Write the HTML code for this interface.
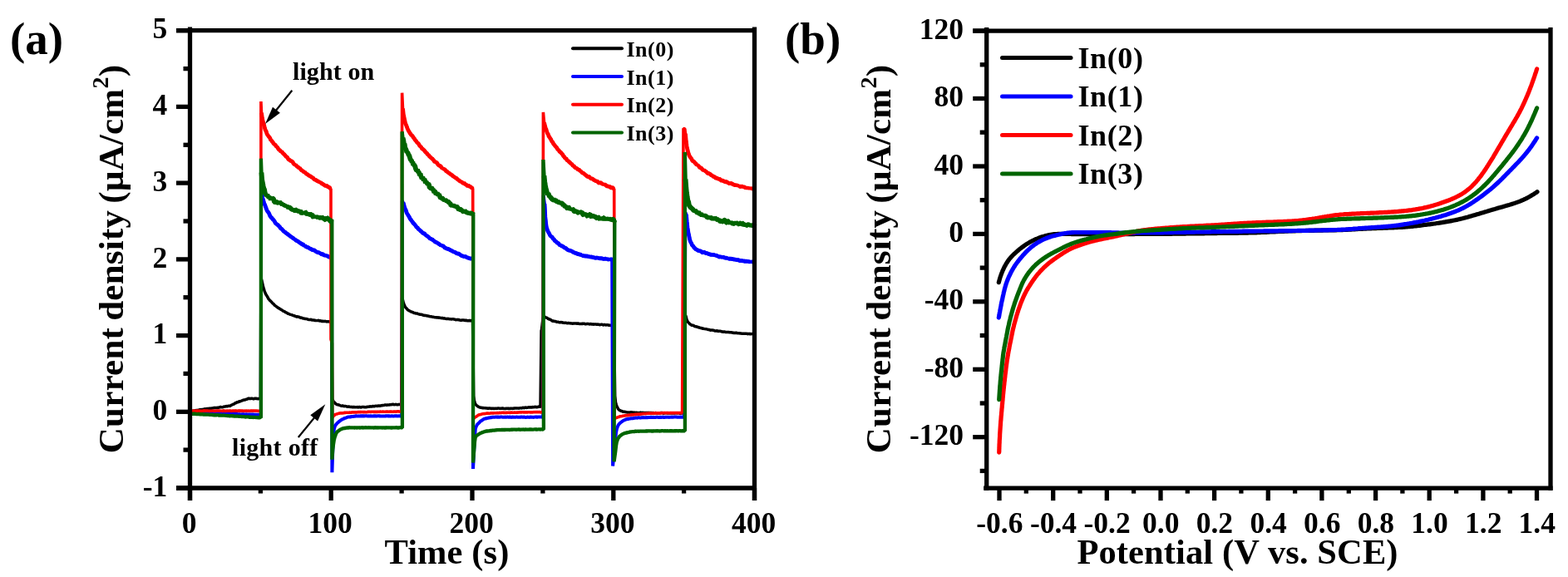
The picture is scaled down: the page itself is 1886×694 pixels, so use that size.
<!DOCTYPE html>
<html><head><meta charset="utf-8"><title>Photocurrent</title>
<style>html,body{margin:0;padding:0;background:#fff;}svg{display:block;filter:blur(0.55px);}text{font-family:"Liberation Serif",serif;font-weight:bold;fill:#000;font-variant-ligatures:none;}</style>
</head><body>
<svg width="1886" height="694" viewBox="0 0 1886 694">
<rect width="1886" height="694" fill="#fff"/>
<g fill="none" stroke-linejoin="bevel" stroke-linecap="butt">
<path d="M228.6 494.7L229.4 494.7L230.2 495.0L231.0 494.2L231.8 494.6L232.6 493.8L233.4 494.1L234.2 494.1L235.0 494.0L235.8 493.5L236.6 493.5L237.4 493.4L238.2 493.3L239.0 493.2L239.9 492.9L240.7 492.5L241.5 492.8L242.3 492.6L243.1 492.4L243.9 492.7L244.7 491.9L245.5 492.3L246.3 491.8L247.1 492.0L247.9 492.1L248.7 491.5L249.5 491.6L250.3 491.5L251.2 491.4L252.0 491.1L252.8 491.3L253.6 491.5L254.4 491.2L255.2 490.8L256.0 491.1L256.8 490.7L257.6 490.4L258.4 490.7L259.2 490.5L260.0 490.4L260.8 490.7L261.6 490.3L262.5 490.5L263.3 489.9L264.1 490.1L264.9 489.5L265.7 489.6L266.5 489.8L267.3 489.7L268.1 489.7L268.9 489.3L269.7 489.1L270.5 489.0L271.3 489.1L272.1 488.5L272.9 488.7L273.8 488.8L274.6 488.2L275.4 488.2L276.2 488.4L277.0 488.3L277.8 487.5L278.6 487.1L279.4 486.7L280.2 486.2L281.0 486.3L281.8 485.8L282.6 485.0L283.4 484.7L284.2 484.5L285.1 483.6L285.9 483.9L286.7 483.6L287.5 482.8L288.3 483.0L289.1 482.7L289.9 482.1L290.7 482.3L291.5 481.6L292.3 481.5L293.1 481.1L293.9 481.0L294.7 481.0L295.5 480.5L296.4 480.3L297.2 480.3L298.0 479.5L298.8 479.3L299.6 479.5L300.4 479.1L301.2 479.8L302.0 479.3L302.8 479.3L303.6 479.3L304.4 479.7L305.2 479.7L306.0 479.5L306.8 479.1L307.7 479.3L308.5 479.6L309.3 479.2L310.1 479.7L310.9 479.7L311.7 479.2L312.5 479.3L313.3 479.2L313.9 333.9L315.0 337.8L315.8 341.4L316.6 345.1L317.4 347.5L318.2 350.4L319.0 352.2L319.8 354.0L320.6 355.2L321.5 356.6L322.3 358.1L323.1 359.7L323.9 360.4L324.7 361.6L325.5 362.0L326.3 362.9L327.1 363.7L327.9 364.9L328.7 365.3L329.5 366.1L330.3 367.1L331.1 367.8L331.9 368.2L332.7 368.9L333.5 369.4L334.3 370.1L335.1 370.5L335.9 371.1L336.7 371.5L337.5 372.1L338.3 372.6L339.1 372.9L339.9 373.5L340.7 374.2L341.5 374.4L342.3 374.7L343.1 375.6L343.9 375.8L344.7 376.2L345.5 376.4L346.3 377.2L347.1 377.4L347.9 377.7L348.7 378.1L349.5 378.4L350.3 378.6L351.1 378.8L351.9 379.1L352.7 379.5L353.6 379.7L354.4 380.0L355.2 380.3L356.0 380.7L356.8 381.0L357.6 380.8L358.4 380.9L359.2 381.3L360.0 381.3L360.8 382.1L361.6 382.2L362.4 382.1L363.2 382.3L364.0 382.9L364.8 383.1L365.6 383.1L366.4 383.3L367.2 383.5L368.0 383.5L368.8 383.6L369.6 383.8L370.4 384.2L371.2 384.4L372.0 384.5L372.8 384.6L373.6 384.2L374.4 384.4L375.2 385.1L376.0 384.9L376.8 385.0L377.6 385.0L378.4 385.4L379.2 385.3L380.0 385.7L380.8 385.2L381.6 385.9L382.4 385.3L383.2 385.5L384.0 385.8L384.8 386.0L385.6 385.8L386.5 386.2L387.3 386.5L388.1 386.2L388.9 386.5L389.7 386.5L390.5 386.5L391.3 386.3L392.1 386.6L392.9 386.9L393.7 386.8L394.5 386.6L395.3 386.8L396.1 386.9L396.9 386.8L397.7 387.1L398.5 387.1L399.7 479.8L400.5 481.6L401.3 483.3L402.1 483.9L402.9 484.6L403.7 485.7L404.5 485.9L405.4 486.8L406.2 486.8L407.0 486.7L407.8 487.3L408.6 487.3L409.4 487.9L410.2 488.1L411.0 488.3L411.8 488.0L412.6 488.1L413.4 488.8L414.2 488.5L415.0 488.6L415.9 488.6L416.7 488.8L417.5 489.1L418.3 489.5L419.1 489.1L419.9 489.1L420.7 489.6L421.5 489.2L422.3 489.6L423.1 489.6L423.9 489.8L424.7 489.3L425.5 489.7L426.4 489.6L427.2 489.9L428.0 489.5L428.8 489.9L429.6 489.5L430.4 489.8L431.2 490.1L432.0 489.6L432.8 489.6L433.6 490.0L434.4 489.9L435.2 489.4L436.0 489.5L436.9 489.5L437.7 489.5L438.5 489.8L439.3 489.7L440.1 489.8L440.9 489.5L441.7 489.5L442.5 489.2L443.3 489.4L444.1 489.2L444.9 488.8L445.7 489.0L446.5 488.9L447.4 488.9L448.2 488.5L449.0 488.4L449.8 489.0L450.6 488.5L451.4 488.4L452.2 488.2L453.0 488.4L453.8 488.6L454.6 488.0L455.4 488.2L456.2 488.1L457.0 488.2L457.9 488.0L458.7 487.7L459.5 487.6L460.3 487.8L461.1 487.3L461.9 487.7L462.7 487.0L463.5 487.0L464.3 487.1L465.1 487.3L465.9 487.0L466.7 487.0L467.5 487.0L468.4 486.9L469.2 486.4L470.0 486.9L470.8 486.4L471.6 486.4L472.4 486.3L473.2 486.3L474.0 486.9L474.8 486.6L475.6 486.4L476.4 486.3L477.2 486.9L478.0 486.7L478.9 486.9L479.7 486.3L480.5 486.4L481.3 486.5L482.1 486.4L482.9 486.4L483.6 358.5L484.5 360.9L485.3 364.1L486.1 366.1L486.9 367.9L487.7 369.6L488.6 370.6L489.4 371.4L490.2 372.5L491.0 373.1L491.8 373.6L492.6 374.1L493.4 374.2L494.2 375.0L495.0 375.0L495.8 375.4L496.6 375.5L497.4 376.3L498.2 376.4L499.0 376.5L499.9 376.8L500.7 377.3L501.5 376.9L502.3 377.3L503.1 377.7L503.9 377.7L504.7 378.1L505.5 378.4L506.3 378.0L507.1 378.4L507.9 378.5L508.7 379.0L509.5 379.2L510.4 379.3L511.2 379.6L512.0 379.3L512.8 379.6L513.6 380.1L514.4 380.1L515.2 379.8L516.0 380.6L516.8 380.6L517.6 380.8L518.4 380.6L519.2 380.9L520.0 381.3L520.8 381.3L521.7 381.3L522.5 381.6L523.3 381.8L524.1 381.8L524.9 381.8L525.7 382.1L526.5 381.7L527.3 382.0L528.1 382.2L528.9 382.0L529.7 382.6L530.5 382.2L531.3 382.7L532.2 382.5L533.0 382.7L533.8 383.0L534.6 382.8L535.4 383.1L536.2 383.4L537.0 383.6L537.8 383.2L538.6 383.4L539.4 383.7L540.2 383.4L541.0 384.0L541.8 383.6L542.6 383.9L543.5 383.9L544.3 383.7L545.1 383.8L545.9 383.9L546.7 384.2L547.5 384.2L548.3 384.8L549.1 384.6L549.9 384.3L550.7 384.8L551.5 384.5L552.3 384.8L553.1 385.0L554.0 385.2L554.8 385.3L555.6 385.0L556.4 385.0L557.2 385.1L558.0 385.1L558.8 385.5L559.6 385.3L560.4 385.5L561.2 385.2L562.0 385.7L562.8 385.9L563.6 385.4L564.5 385.8L565.3 385.5L566.1 385.5L566.9 385.8L567.7 385.7L568.5 386.1L569.7 476.3L570.5 481.9L571.3 484.8L572.1 486.1L572.9 487.3L573.7 487.9L574.5 488.6L575.3 489.3L576.1 489.5L576.9 489.8L577.7 490.3L578.5 490.2L579.3 490.2L580.1 490.8L580.9 490.5L581.7 490.7L582.6 490.7L583.4 490.8L584.2 490.8L585.0 491.1L585.8 490.8L586.6 491.2L587.4 491.4L588.2 491.0L589.0 490.9L589.8 491.3L590.6 491.3L591.4 491.5L592.2 491.2L593.0 491.3L593.8 491.5L594.6 491.3L595.4 491.6L596.2 491.1L597.0 491.4L597.8 491.3L598.6 491.2L599.4 490.9L600.2 491.3L601.0 491.1L601.8 491.4L602.6 491.3L603.4 491.3L604.2 491.0L605.0 491.0L605.9 491.4L606.7 491.4L607.5 491.6L608.3 491.5L609.1 491.2L609.9 491.3L610.7 491.3L611.5 491.5L612.3 491.2L613.1 491.6L613.9 491.3L614.7 491.2L615.5 491.3L616.3 491.2L617.1 491.6L617.9 491.0L618.7 491.2L619.5 490.9L620.3 491.3L621.1 490.9L621.9 490.9L622.7 491.0L623.5 491.1L624.3 491.2L625.1 490.9L625.9 490.7L626.7 490.7L627.5 491.0L628.3 490.5L629.2 490.3L630.0 490.8L630.8 490.5L631.6 490.2L632.4 490.1L633.2 490.6L634.0 490.4L634.8 489.9L635.6 490.2L636.4 489.8L637.2 490.0L638.0 490.0L638.8 489.6L639.6 490.1L640.4 489.7L641.2 489.5L642.0 489.9L642.8 489.4L643.6 489.3L644.4 489.7L645.2 489.5L646.0 489.7L646.8 489.6L647.6 489.2L648.4 489.0L649.2 489.4L650.0 489.2L651.1 397.4L651.4 397.0L652.2 389.9L653.0 383.4L653.8 380.7L654.6 380.3L655.4 381.3L656.2 381.8L657.0 382.0L657.9 382.2L658.7 382.9L659.5 383.5L660.3 383.9L661.1 383.8L661.9 384.5L662.7 384.7L663.5 385.4L664.3 386.0L665.1 386.2L665.9 386.0L666.7 386.5L667.5 386.5L668.3 386.5L669.1 387.1L669.9 387.3L670.8 387.1L671.6 387.3L672.4 387.7L673.2 387.8L674.0 387.7L674.8 387.6L675.6 387.7L676.4 387.8L677.2 388.4L678.0 388.2L678.8 388.4L679.6 388.3L680.4 388.3L681.2 388.2L682.0 388.9L682.9 388.7L683.7 388.4L684.5 388.8L685.3 388.8L686.1 388.8L686.9 389.0L687.7 388.9L688.5 389.2L689.3 389.3L690.1 388.9L690.9 389.1L691.7 388.9L692.5 389.0L693.3 389.0L694.1 389.2L694.9 389.1L695.8 389.1L696.6 389.5L697.4 389.5L698.2 389.4L699.0 389.6L699.8 389.3L700.6 389.5L701.4 389.3L702.2 389.3L703.0 389.2L703.8 389.7L704.6 389.9L705.4 389.5L706.2 389.6L707.0 389.4L707.8 389.5L708.7 389.9L709.5 390.1L710.3 389.6L711.1 389.7L711.9 390.1L712.7 389.8L713.5 390.3L714.3 390.0L715.1 390.1L715.9 390.0L716.7 390.1L717.5 390.2L718.3 390.1L719.1 390.5L719.9 390.1L720.7 390.5L721.6 390.7L722.4 390.4L723.2 390.3L724.0 390.3L724.8 390.4L725.6 390.9L726.4 390.8L727.2 390.4L728.0 390.8L728.8 390.9L729.6 390.8L730.4 390.6L731.2 390.9L732.0 390.9L732.8 391.4L733.7 391.0L734.5 391.5L735.3 391.5L736.1 391.3L736.9 391.1L737.7 391.6L738.5 391.1L739.7 476.3L740.5 483.9L741.3 486.8L742.1 489.0L742.9 490.4L743.7 492.2L744.5 492.8L745.4 493.6L746.2 494.1L747.0 494.3L747.8 494.5L748.6 494.7L749.4 495.2L750.2 495.3L751.0 495.1L751.8 495.5L752.6 495.6L753.4 495.7L754.2 495.9L755.0 496.0L755.9 495.9L756.7 496.1L757.5 496.2L758.3 495.8L759.1 495.8L759.9 495.8L760.7 495.9L761.5 496.5L762.3 496.1L763.1 496.2L763.9 496.3L764.7 496.4L765.5 496.2L766.4 496.6L767.2 496.3L768.0 496.7L768.8 496.7L769.6 496.1L770.4 496.5L771.2 496.2L772.0 496.8L772.8 496.2L773.6 496.4L774.4 496.7L775.2 496.6L776.0 496.7L776.9 496.5L777.7 496.6L778.5 496.4L779.3 496.6L780.1 496.5L780.9 496.8L781.7 496.4L782.5 496.4L783.3 496.5L784.1 496.7L784.9 496.8L785.7 496.4L786.5 497.1L787.4 497.0L788.2 496.7L789.0 496.5L789.8 497.0L790.6 497.1L791.4 496.6L792.2 497.0L793.0 497.0L793.8 497.1L794.6 496.6L795.4 496.6L796.2 496.6L797.0 496.7L797.9 497.2L798.7 497.2L799.5 496.9L800.3 496.6L801.1 496.8L801.9 496.7L802.7 497.0L803.5 497.1L804.3 497.1L805.1 496.9L805.9 496.9L806.7 496.9L807.5 496.9L808.4 496.9L809.2 497.1L810.0 497.1L810.8 496.9L811.6 497.0L812.4 496.7L813.2 496.7L814.0 496.9L814.8 496.9L815.6 496.7L816.4 496.7L817.2 497.0L818.0 497.3L818.9 497.3L819.7 496.7L820.5 496.9L821.3 496.9L822.1 496.9L822.9 496.8L823.8 377.9L825.1 380.6L825.9 384.1L826.7 386.0L827.5 387.3L828.4 388.3L829.2 389.0L830.0 390.1L830.8 390.2L831.6 391.0L832.4 391.3L833.2 391.2L834.0 391.5L834.8 391.9L835.6 392.5L836.4 392.7L837.2 392.7L838.0 393.0L838.8 393.2L839.6 393.5L840.4 393.9L841.2 393.8L842.0 394.4L842.8 394.6L843.6 394.6L844.4 395.1L845.2 395.2L846.0 394.9L846.8 395.7L847.6 395.3L848.4 395.9L849.2 395.6L850.0 395.9L850.8 396.1L851.6 396.6L852.4 396.6L853.2 396.4L854.0 397.1L854.8 397.2L855.6 397.1L856.4 396.9L857.2 397.2L858.1 397.3L858.9 397.5L859.7 398.0L860.5 397.9L861.3 398.2L862.1 397.8L862.9 398.0L863.7 398.5L864.5 398.3L865.3 398.3L866.1 398.3L866.9 398.4L867.7 398.8L868.5 399.0L869.3 399.0L870.1 399.2L870.9 399.1L871.7 399.0L872.5 399.5L873.3 399.4L874.1 399.6L874.9 399.6L875.7 399.6L876.5 399.5L877.3 399.7L878.1 399.8L878.9 399.7L879.7 399.8L880.5 400.1L881.3 399.9L882.1 400.6L882.9 400.3L883.7 400.4L884.5 400.5L885.3 400.2L886.1 400.3L886.9 400.9L887.8 400.7L888.6 400.8L889.4 400.7L890.2 401.0L891.0 400.9L891.8 401.2L892.6 401.2L893.4 401.3L894.2 401.3L895.0 401.3L895.8 401.2L896.6 401.3L897.4 401.3L898.2 401.3L899.0 401.6L899.8 401.7L900.6 401.1L901.4 401.7L902.2 401.6L903.0 401.6L903.8 401.9L904.6 401.3L905.4 401.6L906.2 401.6L907.0 402.0L907.8 401.5" stroke="#000000" stroke-width="3.5"/>
<path d="M228.5 496.6L229.3 496.7L230.1 496.6L230.9 496.9L231.7 496.7L232.5 496.9L233.3 496.9L234.1 496.8L234.9 497.0L235.7 496.8L236.6 497.0L237.4 496.9L238.2 496.9L239.0 496.7L239.8 496.9L240.6 496.9L241.4 497.0L242.2 497.2L243.0 496.9L243.8 497.1L244.6 497.1L245.4 497.0L246.2 497.1L247.0 497.0L247.8 497.3L248.6 497.1L249.4 497.2L250.2 497.2L251.1 497.4L251.9 497.4L252.7 497.3L253.5 497.3L254.3 497.2L255.1 497.5L255.9 497.2L256.7 497.3L257.5 497.4L258.3 497.5L259.1 497.5L259.9 497.4L260.7 497.6L261.5 497.7L262.3 497.3L263.1 497.6L263.9 497.6L264.7 497.5L265.5 497.6L266.4 497.6L267.2 497.7L268.0 497.7L268.8 497.9L269.6 497.9L270.4 497.9L271.2 497.7L272.0 497.9L272.8 497.9L273.6 497.9L274.4 498.1L275.2 497.7L276.0 497.9L276.8 497.9L277.6 498.0L278.4 497.8L279.2 498.2L280.0 497.9L280.9 498.0L281.7 497.9L282.5 498.0L283.3 498.2L284.1 497.9L284.9 498.0L285.7 498.2L286.5 498.2L287.3 498.3L288.1 498.1L288.9 498.4L289.7 498.4L290.5 498.4L291.3 498.2L292.1 498.3L292.9 498.2L293.7 498.5L294.5 498.6L295.4 498.6L296.2 498.3L297.0 498.4L297.8 498.5L298.6 498.5L299.4 498.4L300.2 498.7L301.0 498.5L301.8 498.6L302.6 498.5L303.4 498.7L304.2 498.5L305.0 498.5L305.8 498.7L306.6 498.7L307.4 498.9L308.2 498.7L309.0 498.8L309.8 498.7L310.7 498.7L311.5 498.9L312.3 498.9L313.1 498.9L313.9 499.1L314.1 232.2L315.0 234.2L315.8 238.3L316.6 240.3L317.5 243.9L318.3 245.7L319.1 247.7L319.9 249.9L320.7 252.1L321.5 253.9L322.3 254.8L323.1 255.8L323.9 257.4L324.7 259.5L325.5 260.6L326.3 261.8L327.1 262.2L328.0 263.8L328.8 264.2L329.6 265.3L330.4 266.5L331.2 268.3L332.0 268.8L332.8 269.9L333.6 269.8L334.4 271.1L335.2 271.5L336.0 272.6L336.8 273.2L337.6 274.9L338.4 275.0L339.3 275.9L340.1 276.8L340.9 277.8L341.7 278.6L342.5 278.9L343.3 279.5L344.1 280.6L344.9 280.7L345.7 281.2L346.5 282.4L347.3 282.5L348.1 283.2L348.9 283.9L349.8 284.6L350.6 285.0L351.4 285.7L352.2 286.3L353.0 286.4L353.8 287.9L354.6 287.6L355.4 288.7L356.2 289.3L357.0 289.6L357.8 289.9L358.6 290.3L359.4 291.2L360.2 291.6L361.1 292.3L361.9 292.5L362.7 293.6L363.5 293.8L364.3 293.7L365.1 294.6L365.9 295.8L366.7 295.1L367.5 296.3L368.3 297.1L369.1 296.9L369.9 297.6L370.7 297.7L371.6 298.1L372.4 298.9L373.2 299.3L374.0 299.3L374.8 300.0L375.6 300.4L376.4 301.1L377.2 300.6L378.0 301.0L378.8 301.6L379.6 302.0L380.4 303.0L381.2 302.9L382.1 303.8L382.9 303.6L383.7 303.8L384.5 304.6L385.3 304.2L386.1 305.7L386.9 305.8L387.7 305.5L388.5 305.8L389.3 306.8L390.1 307.0L390.9 307.2L391.7 306.8L392.5 307.9L393.4 307.4L394.2 308.3L395.0 308.5L395.8 309.3L396.6 309.2L397.4 308.8L398.2 310.1L399.0 310.2L399.4 568.3L400.2 543.7L401.0 527.2L401.8 516.4L402.6 513.4L403.4 511.7L404.2 510.6L405.0 509.7L405.9 508.6L406.7 508.1L407.5 507.2L408.3 506.7L409.1 506.0L409.9 505.5L410.7 505.0L411.5 504.4L412.3 504.1L413.1 503.9L413.9 503.2L414.7 502.9L415.5 502.8L416.3 502.5L417.1 502.1L417.9 501.7L418.7 501.6L419.5 501.5L420.3 501.6L421.2 501.3L422.0 501.4L422.8 501.0L423.6 500.9L424.4 500.9L425.2 500.9L426.0 500.5L426.8 500.8L427.6 500.5L428.4 500.3L429.2 500.4L430.0 500.4L430.8 500.5L431.6 500.6L432.4 500.4L433.2 500.5L434.0 500.3L434.8 500.5L435.6 500.2L436.5 500.5L437.3 500.3L438.1 500.4L438.9 500.3L439.7 500.3L440.5 500.3L441.3 500.3L442.1 500.4L442.9 500.4L443.7 500.3L444.5 500.4L445.3 500.5L446.1 500.3L446.9 500.4L447.7 500.4L448.5 500.6L449.3 500.3L450.1 500.5L450.9 500.3L451.7 500.3L452.6 500.5L453.4 500.4L454.2 500.3L455.0 500.2L455.8 500.5L456.6 500.3L457.4 500.5L458.2 500.4L459.0 500.4L459.8 500.4L460.6 500.6L461.4 500.6L462.2 500.4L463.0 500.4L463.8 500.3L464.6 500.5L465.4 500.2L466.2 500.3L467.0 500.5L467.9 500.2L468.7 500.5L469.5 500.4L470.3 500.4L471.1 500.3L471.9 500.2L472.7 500.6L473.5 500.5L474.3 500.5L475.1 500.2L475.9 500.5L476.7 500.3L477.5 500.3L478.3 500.4L479.1 500.4L479.9 500.2L480.7 500.5L481.5 500.4L482.3 500.5L483.2 500.6L483.8 241.3L485.0 243.8L485.8 246.2L486.6 249.5L487.5 251.5L488.3 253.1L489.1 255.7L489.9 257.3L490.7 258.4L491.5 259.9L492.3 261.0L493.1 262.9L493.9 263.8L494.7 265.1L495.5 266.1L496.3 267.0L497.1 268.5L498.0 269.2L498.8 270.1L499.6 271.0L500.4 272.2L501.2 273.5L502.0 273.4L502.8 275.0L503.6 275.8L504.4 276.3L505.2 276.9L506.0 277.9L506.8 278.4L507.6 279.2L508.4 280.2L509.3 280.7L510.1 280.7L510.9 281.1L511.7 282.8L512.5 282.8L513.3 283.9L514.1 283.9L514.9 284.7L515.7 285.2L516.5 286.2L517.3 287.1L518.1 287.1L518.9 287.7L519.8 288.0L520.6 288.4L521.4 289.8L522.2 289.4L523.0 290.9L523.8 291.1L524.6 290.9L525.4 292.4L526.2 291.9L527.0 293.0L527.8 292.9L528.6 294.5L529.4 294.1L530.2 295.3L531.1 294.8L531.9 296.0L532.7 295.7L533.5 296.1L534.3 297.2L535.1 298.1L535.9 298.2L536.7 298.8L537.5 299.2L538.3 299.3L539.1 299.2L539.9 300.1L540.7 300.1L541.6 300.9L542.4 301.1L543.2 301.7L544.0 301.7L544.8 302.7L545.6 302.7L546.4 303.2L547.2 303.0L548.0 303.9L548.8 304.3L549.6 305.2L550.4 305.0L551.2 304.9L552.1 305.4L552.9 305.8L553.7 306.6L554.5 307.2L555.3 307.6L556.1 307.8L556.9 308.1L557.7 308.4L558.5 308.8L559.3 308.0L560.1 308.8L560.9 309.3L561.7 309.7L562.5 309.9L563.4 310.2L564.2 310.8L565.0 310.1L565.8 310.9L566.6 311.7L567.4 310.9L568.2 311.2L569.0 312.4L569.0 563.9L570.2 541.3L571.0 526.2L571.8 516.0L572.6 513.5L573.4 511.7L574.2 510.4L575.0 509.6L575.9 508.9L576.7 508.1L577.5 507.0L578.3 506.4L579.1 506.0L579.9 505.5L580.7 504.9L581.5 504.3L582.3 503.9L583.1 503.6L583.9 503.3L584.7 503.4L585.5 503.0L586.3 502.9L587.1 502.7L587.9 502.5L588.7 502.5L589.5 502.3L590.3 502.1L591.2 502.2L592.0 501.8L592.8 501.7L593.6 501.7L594.4 501.7L595.2 501.8L596.0 501.6L596.8 501.6L597.6 501.7L598.4 501.6L599.2 501.7L600.0 501.6L600.8 501.8L601.6 501.6L602.4 501.6L603.2 501.6L604.0 501.6L604.8 501.8L605.6 501.8L606.5 501.8L607.3 501.7L608.1 501.5L608.9 501.8L609.7 501.6L610.5 501.6L611.3 501.7L612.1 501.9L612.9 501.6L613.7 501.6L614.5 501.8L615.3 501.9L616.1 501.6L616.9 501.5L617.7 501.8L618.5 501.8L619.3 501.6L620.1 501.8L620.9 501.6L621.7 501.6L622.6 501.7L623.4 501.8L624.2 501.7L625.0 501.8L625.8 501.5L626.6 501.7L627.4 501.6L628.2 501.5L629.0 501.9L629.8 501.5L630.6 501.6L631.4 501.8L632.2 501.9L633.0 501.9L633.8 501.6L634.6 501.9L635.4 501.5L636.2 501.8L637.0 501.9L637.9 501.6L638.7 501.5L639.5 501.8L640.3 501.8L641.1 501.8L641.9 501.9L642.7 501.7L643.5 501.6L644.3 501.5L645.1 501.6L645.9 501.9L646.7 501.5L647.5 501.6L648.3 501.6L649.1 501.5L649.9 501.6L650.7 501.6L651.5 501.5L652.3 501.7L653.2 501.7L653.6 234.8L655.0 245.2L655.8 260.7L656.6 268.7L657.4 274.0L658.2 276.0L659.0 278.2L659.9 279.6L660.7 281.1L661.5 282.8L662.3 284.0L663.1 284.5L663.9 285.0L664.7 286.1L665.5 287.3L666.3 287.8L667.1 289.2L667.9 290.1L668.7 290.3L669.5 291.2L670.3 292.2L671.1 292.4L671.9 292.7L672.7 294.3L673.5 294.9L674.3 294.4L675.1 295.9L675.9 296.0L676.7 296.1L677.5 296.8L678.3 297.3L679.1 298.5L679.9 298.3L680.7 298.6L681.5 299.3L682.3 300.4L683.1 300.5L683.9 301.1L684.8 301.2L685.6 301.3L686.4 301.5L687.2 302.2L688.0 302.2L688.8 302.8L689.6 303.6L690.4 303.6L691.2 304.0L692.0 304.5L692.8 304.4L693.6 304.7L694.4 305.6L695.2 305.5L696.0 305.6L696.8 306.0L697.6 306.1L698.4 306.2L699.2 307.1L700.0 306.5L700.8 307.6L701.6 307.7L702.4 307.9L703.2 307.3L704.0 307.9L704.8 308.6L705.6 308.0L706.4 308.0L707.2 308.8L708.0 308.4L708.8 308.9L709.6 308.6L710.5 309.7L711.3 309.0L712.1 308.9L712.9 309.8L713.7 309.5L714.5 309.9L715.3 309.9L716.1 310.5L716.9 310.2L717.7 310.1L718.5 309.8L719.3 310.5L720.1 310.3L720.9 310.7L721.7 310.9L722.5 310.8L723.3 310.4L724.1 311.0L724.9 311.1L725.7 311.3L726.5 311.8L727.3 311.0L728.1 311.3L728.9 311.0L729.7 311.9L730.5 311.3L731.3 312.0L732.1 312.1L732.9 311.5L733.7 312.3L734.5 311.9L735.4 311.8L736.2 312.1L737.1 560.5L738.7 543.9L739.5 534.6L740.3 526.4L741.1 519.8L741.9 515.8L742.7 513.5L743.5 511.7L744.3 510.4L745.1 509.4L745.9 508.8L746.7 508.1L747.5 507.5L748.3 506.9L749.1 506.3L749.9 505.9L750.7 505.4L751.5 505.1L752.3 504.8L753.1 504.3L754.0 504.3L754.8 504.0L755.6 503.8L756.4 503.9L757.2 503.4L758.0 503.5L758.8 503.3L759.6 503.3L760.4 503.2L761.2 503.2L762.0 503.1L762.8 502.9L763.6 502.5L764.4 502.7L765.2 502.4L766.0 502.7L766.8 502.6L767.6 502.3L768.4 502.2L769.2 502.4L770.0 502.4L770.8 502.4L771.7 502.3L772.5 502.0L773.3 502.3L774.1 502.0L774.9 502.3L775.7 502.2L776.5 502.2L777.3 502.2L778.1 502.1L778.9 502.2L779.7 502.1L780.5 502.0L781.3 502.0L782.1 501.9L782.9 501.8L783.7 501.8L784.5 502.1L785.3 501.8L786.1 502.0L786.9 502.0L787.7 502.0L788.6 501.9L789.4 501.8L790.2 501.8L791.0 501.8L791.8 501.9L792.6 501.9L793.4 502.0L794.2 501.8L795.0 502.0L795.8 502.0L796.6 501.7L797.4 502.0L798.2 501.8L799.0 502.0L799.8 501.9L800.6 501.7L801.4 501.7L802.2 501.8L803.0 501.8L803.8 501.6L804.6 501.9L805.5 501.8L806.3 501.7L807.1 501.8L807.9 501.6L808.7 501.6L809.5 501.8L810.3 501.6L811.1 501.6L811.9 501.5L812.7 501.5L813.5 501.6L814.3 501.7L815.1 501.9L815.9 501.7L816.7 501.7L817.5 501.7L818.3 501.6L819.1 501.7L819.9 501.9L820.7 501.5L821.5 501.7L822.3 501.8L823.2 501.8L824.4 255.5L825.4 258.0L826.2 266.8L827.0 274.0L827.8 279.4L828.6 282.9L829.4 286.7L830.2 290.0L831.0 291.6L831.8 293.0L832.6 295.2L833.4 295.5L834.2 296.7L835.0 298.0L835.8 298.4L836.6 299.5L837.4 300.1L838.2 300.1L839.0 301.1L839.8 301.3L840.6 301.7L841.4 301.8L842.2 302.1L843.0 302.0L843.8 302.7L844.6 303.6L845.4 303.8L846.2 303.0L847.0 303.3L847.8 303.8L848.6 304.5L849.4 304.5L850.2 304.3L851.0 304.9L851.8 305.3L852.6 305.7L853.4 305.6L854.2 306.1L855.0 306.3L855.8 306.4L856.6 306.0L857.4 307.0L858.2 306.5L859.0 306.6L859.8 307.3L860.6 306.9L861.4 307.2L862.2 307.7L863.0 308.0L863.8 307.8L864.6 309.0L865.4 309.0L866.2 308.8L867.0 309.1L867.8 308.9L868.6 309.9L869.4 309.0L870.2 309.4L871.0 309.4L871.8 310.4L872.6 310.1L873.4 310.2L874.2 310.3L875.0 311.0L875.8 310.4L876.6 311.2L877.4 311.3L878.2 311.1L879.0 311.1L879.8 311.4L880.6 311.5L881.4 311.5L882.2 312.0L883.0 311.9L883.8 311.9L884.6 312.6L885.4 312.3L886.2 312.5L887.0 313.1L887.8 312.7L888.6 312.7L889.4 313.5L890.2 313.7L891.0 313.6L891.8 313.2L892.6 313.7L893.4 313.9L894.2 313.4L895.0 314.1L895.8 314.4L896.6 314.2L897.4 314.3L898.2 314.1L899.0 314.5L899.8 314.1L900.6 314.8L901.4 314.7L902.2 315.3L903.0 314.6L903.8 315.2L904.6 314.4L905.4 315.0L906.2 315.5L907.0 315.0L907.8 315.5" stroke="#0000ff" stroke-width="4.0"/>
<path d="M315.0 234.2L315.8 238.3L316.6 240.3L317.5 243.9L318.3 245.7L319.1 247.7L319.9 249.9L320.7 252.1L321.5 253.9L322.3 254.8L323.1 255.8L323.9 257.4L324.7 259.5L325.5 260.6L326.3 261.8L327.1 262.2L328.0 263.8L328.8 264.2L329.6 265.3L330.4 266.5L331.2 268.3L332.0 268.8L332.8 269.9L333.6 269.8L334.4 271.1L335.2 271.5L336.0 272.6L336.8 273.2L337.6 274.9L338.4 275.0L339.3 275.9L340.1 276.8L340.9 277.8L341.7 278.6L342.5 278.9L343.3 279.5L344.1 280.6L344.9 280.7L345.7 281.2L346.5 282.4L347.3 282.5L348.1 283.2L348.9 283.9L349.8 284.6L350.6 285.0L351.4 285.7L352.2 286.3L353.0 286.4L353.8 287.9L354.6 287.6L355.4 288.7L356.2 289.3L357.0 289.6L357.8 289.9L358.6 290.3L359.4 291.2L360.2 291.6L361.1 292.3L361.9 292.5L362.7 293.6L363.5 293.8L364.3 293.7L365.1 294.6L365.9 295.8L366.7 295.1L367.5 296.3L368.3 297.1L369.1 296.9L369.9 297.6L370.7 297.7L371.6 298.1L372.4 298.9L373.2 299.3L374.0 299.3L374.8 300.0L375.6 300.4L376.4 301.1L377.2 300.6L378.0 301.0L378.8 301.6L379.6 302.0L380.4 303.0L381.2 302.9L382.1 303.8L382.9 303.6L383.7 303.8L384.5 304.6L385.3 304.2L386.1 305.7L386.9 305.8L387.7 305.5L388.5 305.8L389.3 306.8L390.1 307.0L390.9 307.2L391.7 306.8L392.5 307.9L393.4 307.4L394.2 308.3L395.0 308.5L395.8 309.3L396.6 309.2L397.4 308.8L398.2 310.1L399.0 310.2M485.0 243.8L485.8 246.2L486.6 249.5L487.5 251.5L488.3 253.1L489.1 255.7L489.9 257.3L490.7 258.4L491.5 259.9L492.3 261.0L493.1 262.9L493.9 263.8L494.7 265.1L495.5 266.1L496.3 267.0L497.1 268.5L498.0 269.2L498.8 270.1L499.6 271.0L500.4 272.2L501.2 273.5L502.0 273.4L502.8 275.0L503.6 275.8L504.4 276.3L505.2 276.9L506.0 277.9L506.8 278.4L507.6 279.2L508.4 280.2L509.3 280.7L510.1 280.7L510.9 281.1L511.7 282.8L512.5 282.8L513.3 283.9L514.1 283.9L514.9 284.7L515.7 285.2L516.5 286.2L517.3 287.1L518.1 287.1L518.9 287.7L519.8 288.0L520.6 288.4L521.4 289.8L522.2 289.4L523.0 290.9L523.8 291.1L524.6 290.9L525.4 292.4L526.2 291.9L527.0 293.0L527.8 292.9L528.6 294.5L529.4 294.1L530.2 295.3L531.1 294.8L531.9 296.0L532.7 295.7L533.5 296.1L534.3 297.2L535.1 298.1L535.9 298.2L536.7 298.8L537.5 299.2L538.3 299.3L539.1 299.2L539.9 300.1L540.7 300.1L541.6 300.9L542.4 301.1L543.2 301.7L544.0 301.7L544.8 302.7L545.6 302.7L546.4 303.2L547.2 303.0L548.0 303.9L548.8 304.3L549.6 305.2L550.4 305.0L551.2 304.9L552.1 305.4L552.9 305.8L553.7 306.6L554.5 307.2L555.3 307.6L556.1 307.8L556.9 308.1L557.7 308.4L558.5 308.8L559.3 308.0L560.1 308.8L560.9 309.3L561.7 309.7L562.5 309.9L563.4 310.2L564.2 310.8L565.0 310.1L565.8 310.9L566.6 311.7L567.4 310.9L568.2 311.2L569.0 312.4M655.0 245.2L655.8 260.7L656.6 268.7L657.4 274.0L658.2 276.0L659.0 278.2L659.9 279.6L660.7 281.1L661.5 282.8L662.3 284.0L663.1 284.5L663.9 285.0L664.7 286.1L665.5 287.3L666.3 287.8L667.1 289.2L667.9 290.1L668.7 290.3L669.5 291.2L670.3 292.2L671.1 292.4L671.9 292.7L672.7 294.3L673.5 294.9L674.3 294.4L675.1 295.9L675.9 296.0L676.7 296.1L677.5 296.8L678.3 297.3L679.1 298.5L679.9 298.3L680.7 298.6L681.5 299.3L682.3 300.4L683.1 300.5L683.9 301.1L684.8 301.2L685.6 301.3L686.4 301.5L687.2 302.2L688.0 302.2L688.8 302.8L689.6 303.6L690.4 303.6L691.2 304.0L692.0 304.5L692.8 304.4L693.6 304.7L694.4 305.6L695.2 305.5L696.0 305.6L696.8 306.0L697.6 306.1L698.4 306.2L699.2 307.1L700.0 306.5L700.8 307.6L701.6 307.7L702.4 307.9L703.2 307.3L704.0 307.9L704.8 308.6L705.6 308.0L706.4 308.0L707.2 308.8L708.0 308.4L708.8 308.9L709.6 308.6L710.5 309.7L711.3 309.0L712.1 308.9L712.9 309.8L713.7 309.5L714.5 309.9L715.3 309.9L716.1 310.5L716.9 310.2L717.7 310.1L718.5 309.8L719.3 310.5L720.1 310.3L720.9 310.7L721.7 310.9L722.5 310.8L723.3 310.4L724.1 311.0L724.9 311.1L725.7 311.3L726.5 311.8L727.3 311.0L728.1 311.3L728.9 311.0L729.7 311.9L730.5 311.3L731.3 312.0L732.1 312.1L732.9 311.5L733.7 312.3L734.5 311.9L735.4 311.8L736.2 312.1M825.4 258.0L826.2 266.8L827.0 274.0L827.8 279.4L828.6 282.9L829.4 286.7L830.2 290.0L831.0 291.6L831.8 293.0L832.6 295.2L833.4 295.5L834.2 296.7L835.0 298.0L835.8 298.4L836.6 299.5L837.4 300.1L838.2 300.1L839.0 301.1L839.8 301.3L840.6 301.7L841.4 301.8L842.2 302.1L843.0 302.0L843.8 302.7L844.6 303.6L845.4 303.8L846.2 303.0L847.0 303.3L847.8 303.8L848.6 304.5L849.4 304.5L850.2 304.3L851.0 304.9L851.8 305.3L852.6 305.7L853.4 305.6L854.2 306.1L855.0 306.3L855.8 306.4L856.6 306.0L857.4 307.0L858.2 306.5L859.0 306.6L859.8 307.3L860.6 306.9L861.4 307.2L862.2 307.7L863.0 308.0L863.8 307.8L864.6 309.0L865.4 309.0L866.2 308.8L867.0 309.1L867.8 308.9L868.6 309.9L869.4 309.0L870.2 309.4L871.0 309.4L871.8 310.4L872.6 310.1L873.4 310.2L874.2 310.3L875.0 311.0L875.8 310.4L876.6 311.2L877.4 311.3L878.2 311.1L879.0 311.1L879.8 311.4L880.6 311.5L881.4 311.5L882.2 312.0L883.0 311.9L883.8 311.9L884.6 312.6L885.4 312.3L886.2 312.5L887.0 313.1L887.8 312.7L888.6 312.7L889.4 313.5L890.2 313.7L891.0 313.6L891.8 313.2L892.6 313.7L893.4 313.9L894.2 313.4L895.0 314.1L895.8 314.4L896.6 314.2L897.4 314.3L898.2 314.1L899.0 314.5L899.8 314.1L900.6 314.8L901.4 314.7L902.2 315.3L903.0 314.6L903.8 315.2L904.6 314.4L905.4 315.0L906.2 315.5L907.0 315.0L907.8 315.5" stroke="#0000ff" stroke-width="4.8"/>
<path d="M228.5 494.2L229.3 494.2L230.1 494.4L230.9 494.2L231.7 494.2L232.5 494.2L233.3 494.0L234.1 494.2L234.9 494.2L235.7 494.3L236.6 494.0L237.4 494.1L238.2 494.0L239.0 494.3L239.8 494.3L240.6 494.0L241.4 494.4L242.2 494.4L243.0 494.3L243.8 494.2L244.6 494.0L245.4 493.9L246.2 494.2L247.0 494.0L247.8 494.0L248.6 494.1L249.4 493.9L250.2 494.2L251.1 494.2L251.9 494.4L252.7 494.2L253.5 494.3L254.3 494.2L255.1 494.3L255.9 494.2L256.7 494.1L257.5 494.4L258.3 494.4L259.1 494.4L259.9 494.3L260.7 494.1L261.5 494.0L262.3 494.1L263.1 494.0L263.9 494.3L264.7 494.1L265.5 494.4L266.4 494.1L267.2 494.4L268.0 494.4L268.8 493.9L269.6 494.0L270.4 494.4L271.2 494.2L272.0 494.4L272.8 494.1L273.6 494.0L274.4 494.2L275.2 494.3L276.0 494.1L276.8 494.0L277.6 494.1L278.4 494.4L279.2 494.3L280.0 494.0L280.9 494.1L281.7 494.0L282.5 494.0L283.3 494.3L284.1 494.0L284.9 494.2L285.7 494.2L286.5 494.0L287.3 494.3L288.1 494.0L288.9 494.3L289.7 494.0L290.5 494.1L291.3 494.0L292.1 494.1L292.9 494.4L293.7 494.3L294.5 494.1L295.4 494.4L296.2 494.0L297.0 494.1L297.8 494.4L298.6 494.3L299.4 494.0L300.2 494.4L301.0 494.0L301.8 494.1L302.6 494.3L303.4 494.1L304.2 494.1L305.0 494.0L305.8 494.0L306.6 494.2L307.4 494.1L308.2 494.2L309.0 494.1L309.8 494.2L310.7 494.4L311.5 494.2L312.3 494.2L313.1 494.4L313.9 494.0L313.9 122.0L314.5 135.7L315.3 141.5L316.1 145.4L316.9 148.0L317.7 150.9L318.5 154.2L319.3 156.8L320.1 157.7L320.9 160.5L321.7 162.1L322.5 163.2L323.3 164.3L324.1 165.1L324.9 166.3L325.7 168.7L326.6 168.8L327.4 170.5L328.2 170.9L329.0 172.7L329.8 173.3L330.6 173.9L331.4 174.6L332.2 176.3L333.0 176.3L333.8 177.4L334.6 178.7L335.4 180.0L336.2 180.5L337.0 180.9L337.8 182.6L338.6 182.4L339.4 183.0L340.2 184.1L341.0 185.2L341.8 185.4L342.6 186.4L343.4 187.4L344.2 188.5L345.0 188.6L345.8 189.7L346.6 191.2L347.4 192.0L348.2 192.3L349.0 193.1L349.8 193.7L350.6 193.7L351.4 194.3L352.2 195.0L353.0 196.9L353.8 197.3L354.6 198.4L355.4 197.7L356.2 199.3L357.0 199.7L357.8 200.7L358.6 200.8L359.5 202.4L360.3 201.7L361.1 203.0L361.9 203.9L362.7 204.8L363.5 205.2L364.3 205.7L365.1 206.4L365.9 207.2L366.7 207.0L367.5 208.1L368.3 209.0L369.1 209.5L369.9 209.4L370.7 210.5L371.5 211.2L372.3 211.4L373.1 212.0L373.9 212.2L374.7 213.0L375.5 213.6L376.3 213.4L377.1 214.7L377.9 215.7L378.7 216.1L379.5 216.4L380.3 216.4L381.1 217.4L381.9 217.7L382.7 218.0L383.5 219.1L384.3 218.5L385.1 219.9L385.9 219.4L386.7 220.6L387.5 221.0L388.3 221.1L389.1 222.2L389.9 222.4L390.7 223.0L391.6 223.9L392.4 223.4L393.2 223.5L394.0 224.3L394.8 225.3L395.6 225.1L396.4 225.4L397.2 226.9L398.0 227.0L398.0 408.2L399.4 412.7L399.7 502.2L400.5 501.3L401.3 500.2L402.1 499.6L402.9 498.9L403.7 498.4L404.5 498.1L405.3 497.9L406.1 497.7L406.9 497.3L407.7 497.3L408.5 497.0L409.3 496.8L410.1 496.9L410.9 496.9L411.7 496.9L412.5 496.7L413.3 496.8L414.1 496.4L414.9 496.3L415.7 496.4L416.5 496.3L417.4 496.2L418.2 496.2L419.0 496.3L419.8 496.2L420.6 496.1L421.4 496.3L422.2 496.3L423.0 496.0L423.8 495.9L424.6 495.8L425.4 496.1L426.2 495.8L427.0 496.0L427.8 495.9L428.6 495.8L429.4 495.9L430.2 495.6L431.0 495.6L431.8 495.7L432.6 495.5L433.4 495.8L434.2 495.6L435.0 495.5L435.8 495.5L436.6 495.7L437.4 495.6L438.2 495.6L439.0 495.6L439.8 495.7L440.6 495.7L441.4 495.6L442.2 495.4L443.0 495.4L443.8 495.3L444.6 495.2L445.4 495.4L446.2 495.5L447.0 495.3L447.8 495.3L448.6 495.3L449.5 495.4L450.3 495.3L451.1 495.4L451.9 495.4L452.7 495.2L453.5 495.4L454.3 495.4L455.1 495.1L455.9 495.4L456.7 495.3L457.5 495.1L458.3 495.2L459.1 495.2L459.9 495.3L460.7 495.1L461.5 495.2L462.3 495.3L463.1 495.2L463.9 495.3L464.7 495.1L465.5 495.2L466.3 495.0L467.1 495.2L467.9 495.2L468.7 495.1L469.5 495.1L470.3 494.9L471.1 495.2L471.9 495.2L472.7 495.2L473.5 495.0L474.3 495.1L475.1 494.9L475.9 495.2L476.7 495.1L477.5 494.9L478.3 494.8L479.1 494.9L479.9 495.0L480.7 495.1L481.5 494.9L482.4 494.8L483.2 495.1L483.6 111.7L484.5 130.5L485.3 137.8L486.1 141.6L486.9 145.4L487.7 148.9L488.5 150.3L489.3 152.3L490.1 154.6L490.9 156.4L491.7 157.9L492.5 159.0L493.3 160.6L494.1 161.2L494.9 163.0L495.7 162.9L496.5 164.1L497.3 165.6L498.2 166.3L499.0 168.0L499.8 168.9L500.6 169.7L501.4 171.2L502.2 171.8L503.0 172.4L503.8 173.5L504.6 175.1L505.4 176.1L506.2 176.1L507.0 177.9L507.8 179.0L508.6 179.2L509.4 180.2L510.2 180.6L511.0 181.9L511.8 182.8L512.6 183.8L513.4 183.8L514.2 186.0L515.0 186.2L515.8 186.8L516.6 188.2L517.4 188.7L518.2 189.4L519.0 190.5L519.8 190.4L520.6 191.8L521.4 192.4L522.2 193.9L523.0 194.6L523.8 194.5L524.6 195.5L525.4 195.7L526.2 196.9L527.0 198.1L527.8 199.0L528.6 199.1L529.4 199.6L530.2 200.1L531.0 201.3L531.8 202.5L532.6 202.0L533.4 203.6L534.3 203.2L535.1 204.1L535.9 204.7L536.7 206.0L537.5 206.1L538.3 206.8L539.1 207.8L539.9 207.7L540.7 209.2L541.5 208.9L542.3 210.0L543.1 210.3L543.9 210.8L544.7 211.8L545.5 212.2L546.3 212.7L547.1 213.3L547.9 214.0L548.7 214.1L549.5 214.7L550.3 215.8L551.1 216.3L551.9 216.7L552.7 217.7L553.5 217.9L554.3 218.7L555.1 218.3L555.9 219.5L556.7 220.1L557.5 220.7L558.3 220.4L559.1 220.9L559.9 222.2L560.7 221.7L561.5 223.2L562.3 223.5L563.1 222.9L563.9 223.5L564.7 224.7L565.5 224.4L566.3 224.7L567.1 226.1L567.9 226.0L568.7 226.9L569.2 503.3L570.0 503.0L570.8 502.6L571.6 501.8L572.4 501.3L573.2 500.9L574.0 500.3L574.8 499.8L575.6 499.0L576.4 498.9L577.3 498.8L578.1 498.5L578.9 498.4L579.7 498.0L580.5 497.8L581.3 497.7L582.1 497.5L582.9 497.6L583.7 497.5L584.5 497.4L585.3 497.1L586.1 497.1L586.9 497.0L587.8 497.2L588.6 497.2L589.4 497.2L590.2 496.8L591.0 496.8L591.8 497.1L592.6 496.8L593.4 496.9L594.2 496.7L595.0 496.8L595.8 496.7L596.6 496.7L597.4 496.7L598.2 496.5L599.1 496.7L599.9 496.7L600.7 496.4L601.5 496.5L602.3 496.6L603.1 496.4L603.9 496.3L604.7 496.3L605.5 496.4L606.3 496.2L607.1 496.5L607.9 496.5L608.7 496.4L609.6 496.4L610.4 496.3L611.2 496.2L612.0 496.3L612.8 496.2L613.6 496.4L614.4 496.3L615.2 496.1L616.0 496.3L616.8 496.2L617.6 496.2L618.4 496.2L619.2 496.0L620.0 496.2L620.9 496.2L621.7 496.1L622.5 496.1L623.3 496.1L624.1 495.9L624.9 496.0L625.7 495.8L626.5 495.9L627.3 495.9L628.1 495.7L628.9 495.8L629.7 495.9L630.5 495.9L631.4 495.8L632.2 496.0L633.0 495.9L633.8 495.8L634.6 495.9L635.4 495.8L636.2 495.8L637.0 495.8L637.8 496.0L638.6 495.8L639.4 495.9L640.2 495.9L641.0 496.0L641.8 495.6L642.7 495.8L643.5 495.8L644.3 495.6L645.1 495.7L645.9 495.6L646.7 495.6L647.5 495.7L648.3 495.6L649.1 495.6L649.9 495.9L650.7 495.7L651.5 495.7L652.3 495.9L653.2 495.8L653.4 135.0L654.5 147.4L655.3 150.5L656.1 153.7L656.9 155.3L657.7 158.3L658.5 160.5L659.3 161.3L660.1 164.1L660.9 164.6L661.7 166.4L662.5 167.3L663.3 169.1L664.1 170.5L664.9 170.9L665.7 173.3L666.5 173.7L667.3 175.0L668.2 176.1L669.0 176.9L669.8 177.8L670.6 179.3L671.4 180.2L672.2 180.8L673.0 182.4L673.8 182.8L674.6 183.3L675.4 184.6L676.2 185.2L677.0 186.2L677.8 188.0L678.6 188.3L679.4 189.9L680.2 190.5L681.0 190.4L681.8 192.5L682.6 193.2L683.4 192.8L684.2 194.8L685.0 194.9L685.8 195.7L686.6 197.1L687.4 196.8L688.2 197.9L689.0 199.2L689.8 199.6L690.6 200.0L691.4 201.4L692.2 201.8L693.0 202.2L693.8 202.1L694.6 203.5L695.4 203.9L696.2 204.1L697.0 204.5L697.8 205.8L698.6 205.8L699.4 206.9L700.2 207.7L701.0 208.0L701.8 208.3L702.6 209.3L703.4 209.6L704.3 210.6L705.1 210.8L705.9 212.0L706.7 212.4L707.5 212.6L708.3 212.4L709.1 212.7L709.9 214.3L710.7 214.6L711.5 214.8L712.3 214.9L713.1 215.3L713.9 216.3L714.7 216.5L715.5 217.0L716.3 217.5L717.1 218.1L717.9 217.7L718.7 218.2L719.5 219.6L720.3 219.9L721.1 220.2L721.9 219.4L722.7 219.8L723.5 220.5L724.3 221.1L725.1 221.7L725.9 221.3L726.7 222.3L727.5 222.0L728.3 222.3L729.1 223.5L729.9 223.6L730.7 224.1L731.5 224.0L732.3 224.5L733.1 224.4L733.9 224.9L734.7 225.7L735.5 226.2L736.3 225.4L737.1 225.7L737.9 227.0L738.7 227.0L739.2 503.9L740.0 503.1L740.8 502.8L741.6 502.3L742.4 502.2L743.2 501.7L744.0 501.5L744.8 501.4L745.6 500.9L746.4 500.8L747.2 500.7L748.0 500.7L748.8 500.3L749.7 500.2L750.5 499.9L751.3 500.1L752.1 499.7L752.9 499.6L753.7 499.7L754.5 499.6L755.3 499.6L756.1 499.3L756.9 499.4L757.7 499.0L758.5 499.0L759.3 499.1L760.1 498.8L760.9 498.8L761.7 498.9L762.5 498.8L763.4 498.5L764.2 498.4L765.0 498.4L765.8 498.5L766.6 498.2L767.4 498.1L768.2 498.2L769.0 498.1L769.8 498.1L770.6 498.1L771.4 498.0L772.2 497.7L773.0 497.8L773.8 497.6L774.6 497.5L775.4 497.5L776.2 497.6L777.1 497.5L777.9 497.2L778.7 497.2L779.5 497.2L780.3 497.1L781.1 497.1L781.9 497.1L782.7 497.0L783.5 497.1L784.3 497.2L785.1 497.0L785.9 497.1L786.7 497.0L787.5 496.8L788.3 497.0L789.1 497.1L789.9 496.8L790.7 496.7L791.6 496.9L792.4 496.9L793.2 496.8L794.0 497.0L794.8 496.8L795.6 496.9L796.4 496.6L797.2 496.8L798.0 496.8L798.8 496.5L799.6 496.5L800.4 496.8L801.2 496.8L802.0 496.5L802.8 496.7L803.6 496.5L804.4 496.7L805.3 496.7L806.1 496.5L806.9 496.5L807.7 496.7L808.5 496.6L809.3 496.7L810.1 496.5L810.9 496.5L811.7 496.7L812.5 496.6L813.3 496.5L814.1 496.5L814.9 496.6L815.7 496.6L816.5 496.7L817.3 496.5L818.1 496.6L819.0 496.6L819.8 496.6L820.6 496.6L822.0 154.4L823.8 154.9L824.4 160.7L825.2 169.4L826.0 175.6L826.8 179.6L827.6 182.7L828.4 185.4L829.2 187.5L830.0 188.6L830.8 189.9L831.6 190.7L832.4 192.6L833.2 193.9L834.0 193.9L834.8 194.5L835.6 195.4L836.4 196.4L837.2 197.0L838.0 198.7L838.8 198.1L839.6 199.2L840.4 199.6L841.2 201.0L842.0 201.9L842.8 201.7L843.6 202.1L844.4 203.3L845.2 204.1L846.0 205.1L846.8 204.5L847.6 205.2L848.4 205.8L849.2 206.4L850.0 207.0L850.8 208.2L851.6 208.5L852.4 208.5L853.3 208.9L854.1 209.5L854.9 209.9L855.7 211.1L856.5 211.0L857.3 211.7L858.1 212.6L858.9 212.5L859.7 212.6L860.5 213.9L861.3 214.4L862.1 213.9L862.9 214.6L863.7 215.6L864.5 215.3L865.3 215.3L866.1 215.4L866.9 217.0L867.7 217.1L868.5 216.9L869.3 217.4L870.1 217.7L870.9 217.7L871.7 219.0L872.5 218.8L873.3 218.6L874.1 218.5L874.9 219.5L875.7 219.6L876.5 220.5L877.3 220.6L878.1 220.7L878.9 220.4L879.7 220.6L880.5 221.1L881.3 221.2L882.1 222.3L882.9 222.1L883.7 222.5L884.5 223.2L885.3 222.4L886.2 223.0L887.0 222.7L887.8 223.7L888.6 222.9L889.4 224.2L890.2 224.4L891.0 224.6L891.8 223.7L892.6 224.2L893.4 225.0L894.2 224.3L895.0 225.0L895.8 225.2L896.6 226.0L897.4 225.7L898.2 226.2L899.0 225.6L899.8 226.4L900.6 226.0L901.4 226.9L902.2 225.9L903.0 227.0L903.8 226.3L904.6 226.9L905.4 227.0L906.2 226.6L907.0 227.7L907.8 227.1" stroke="#ff0000" stroke-width="3.6"/>
<path d="M314.5 135.7L315.3 141.5L316.1 145.4L316.9 148.0L317.7 150.9L318.5 154.2L319.3 156.8L320.1 157.7L320.9 160.5L321.7 162.1L322.5 163.2L323.3 164.3L324.1 165.1L324.9 166.3L325.7 168.7L326.6 168.8L327.4 170.5L328.2 170.9L329.0 172.7L329.8 173.3L330.6 173.9L331.4 174.6L332.2 176.3L333.0 176.3L333.8 177.4L334.6 178.7L335.4 180.0L336.2 180.5L337.0 180.9L337.8 182.6L338.6 182.4L339.4 183.0L340.2 184.1L341.0 185.2L341.8 185.4L342.6 186.4L343.4 187.4L344.2 188.5L345.0 188.6L345.8 189.7L346.6 191.2L347.4 192.0L348.2 192.3L349.0 193.1L349.8 193.7L350.6 193.7L351.4 194.3L352.2 195.0L353.0 196.9L353.8 197.3L354.6 198.4L355.4 197.7L356.2 199.3L357.0 199.7L357.8 200.7L358.6 200.8L359.5 202.4L360.3 201.7L361.1 203.0L361.9 203.9L362.7 204.8L363.5 205.2L364.3 205.7L365.1 206.4L365.9 207.2L366.7 207.0L367.5 208.1L368.3 209.0L369.1 209.5L369.9 209.4L370.7 210.5L371.5 211.2L372.3 211.4L373.1 212.0L373.9 212.2L374.7 213.0L375.5 213.6L376.3 213.4L377.1 214.7L377.9 215.7L378.7 216.1L379.5 216.4L380.3 216.4L381.1 217.4L381.9 217.7L382.7 218.0L383.5 219.1L384.3 218.5L385.1 219.9L385.9 219.4L386.7 220.6L387.5 221.0L388.3 221.1L389.1 222.2L389.9 222.4L390.7 223.0L391.6 223.9L392.4 223.4L393.2 223.5L394.0 224.3L394.8 225.3L395.6 225.1L396.4 225.4L397.2 226.9L398.0 227.0M484.5 130.5L485.3 137.8L486.1 141.6L486.9 145.4L487.7 148.9L488.5 150.3L489.3 152.3L490.1 154.6L490.9 156.4L491.7 157.9L492.5 159.0L493.3 160.6L494.1 161.2L494.9 163.0L495.7 162.9L496.5 164.1L497.3 165.6L498.2 166.3L499.0 168.0L499.8 168.9L500.6 169.7L501.4 171.2L502.2 171.8L503.0 172.4L503.8 173.5L504.6 175.1L505.4 176.1L506.2 176.1L507.0 177.9L507.8 179.0L508.6 179.2L509.4 180.2L510.2 180.6L511.0 181.9L511.8 182.8L512.6 183.8L513.4 183.8L514.2 186.0L515.0 186.2L515.8 186.8L516.6 188.2L517.4 188.7L518.2 189.4L519.0 190.5L519.8 190.4L520.6 191.8L521.4 192.4L522.2 193.9L523.0 194.6L523.8 194.5L524.6 195.5L525.4 195.7L526.2 196.9L527.0 198.1L527.8 199.0L528.6 199.1L529.4 199.6L530.2 200.1L531.0 201.3L531.8 202.5L532.6 202.0L533.4 203.6L534.3 203.2L535.1 204.1L535.9 204.7L536.7 206.0L537.5 206.1L538.3 206.8L539.1 207.8L539.9 207.7L540.7 209.2L541.5 208.9L542.3 210.0L543.1 210.3L543.9 210.8L544.7 211.8L545.5 212.2L546.3 212.7L547.1 213.3L547.9 214.0L548.7 214.1L549.5 214.7L550.3 215.8L551.1 216.3L551.9 216.7L552.7 217.7L553.5 217.9L554.3 218.7L555.1 218.3L555.9 219.5L556.7 220.1L557.5 220.7L558.3 220.4L559.1 220.9L559.9 222.2L560.7 221.7L561.5 223.2L562.3 223.5L563.1 222.9L563.9 223.5L564.7 224.7L565.5 224.4L566.3 224.7L567.1 226.1L567.9 226.0L568.7 226.9M654.5 147.4L655.3 150.5L656.1 153.7L656.9 155.3L657.7 158.3L658.5 160.5L659.3 161.3L660.1 164.1L660.9 164.6L661.7 166.4L662.5 167.3L663.3 169.1L664.1 170.5L664.9 170.9L665.7 173.3L666.5 173.7L667.3 175.0L668.2 176.1L669.0 176.9L669.8 177.8L670.6 179.3L671.4 180.2L672.2 180.8L673.0 182.4L673.8 182.8L674.6 183.3L675.4 184.6L676.2 185.2L677.0 186.2L677.8 188.0L678.6 188.3L679.4 189.9L680.2 190.5L681.0 190.4L681.8 192.5L682.6 193.2L683.4 192.8L684.2 194.8L685.0 194.9L685.8 195.7L686.6 197.1L687.4 196.8L688.2 197.9L689.0 199.2L689.8 199.6L690.6 200.0L691.4 201.4L692.2 201.8L693.0 202.2L693.8 202.1L694.6 203.5L695.4 203.9L696.2 204.1L697.0 204.5L697.8 205.8L698.6 205.8L699.4 206.9L700.2 207.7L701.0 208.0L701.8 208.3L702.6 209.3L703.4 209.6L704.3 210.6L705.1 210.8L705.9 212.0L706.7 212.4L707.5 212.6L708.3 212.4L709.1 212.7L709.9 214.3L710.7 214.6L711.5 214.8L712.3 214.9L713.1 215.3L713.9 216.3L714.7 216.5L715.5 217.0L716.3 217.5L717.1 218.1L717.9 217.7L718.7 218.2L719.5 219.6L720.3 219.9L721.1 220.2L721.9 219.4L722.7 219.8L723.5 220.5L724.3 221.1L725.1 221.7L725.9 221.3L726.7 222.3L727.5 222.0L728.3 222.3L729.1 223.5L729.9 223.6L730.7 224.1L731.5 224.0L732.3 224.5L733.1 224.4L733.9 224.9L734.7 225.7L735.5 226.2L736.3 225.4L737.1 225.7L737.9 227.0L738.7 227.0M824.4 160.7L825.2 169.4L826.0 175.6L826.8 179.6L827.6 182.7L828.4 185.4L829.2 187.5L830.0 188.6L830.8 189.9L831.6 190.7L832.4 192.6L833.2 193.9L834.0 193.9L834.8 194.5L835.6 195.4L836.4 196.4L837.2 197.0L838.0 198.7L838.8 198.1L839.6 199.2L840.4 199.6L841.2 201.0L842.0 201.9L842.8 201.7L843.6 202.1L844.4 203.3L845.2 204.1L846.0 205.1L846.8 204.5L847.6 205.2L848.4 205.8L849.2 206.4L850.0 207.0L850.8 208.2L851.6 208.5L852.4 208.5L853.3 208.9L854.1 209.5L854.9 209.9L855.7 211.1L856.5 211.0L857.3 211.7L858.1 212.6L858.9 212.5L859.7 212.6L860.5 213.9L861.3 214.4L862.1 213.9L862.9 214.6L863.7 215.6L864.5 215.3L865.3 215.3L866.1 215.4L866.9 217.0L867.7 217.1L868.5 216.9L869.3 217.4L870.1 217.7L870.9 217.7L871.7 219.0L872.5 218.8L873.3 218.6L874.1 218.5L874.9 219.5L875.7 219.6L876.5 220.5L877.3 220.6L878.1 220.7L878.9 220.4L879.7 220.6L880.5 221.1L881.3 221.2L882.1 222.3L882.9 222.1L883.7 222.5L884.5 223.2L885.3 222.4L886.2 223.0L887.0 222.7L887.8 223.7L888.6 222.9L889.4 224.2L890.2 224.4L891.0 224.6L891.8 223.7L892.6 224.2L893.4 225.0L894.2 224.3L895.0 225.0L895.8 225.2L896.6 226.0L897.4 225.7L898.2 226.2L899.0 225.6L899.8 226.4L900.6 226.0L901.4 226.9L902.2 225.9L903.0 227.0L903.8 226.3L904.6 226.9L905.4 227.0L906.2 226.6L907.0 227.7L907.8 227.1" stroke="#ff0000" stroke-width="4.8"/>
<path d="M228.5 497.5L229.3 497.4L230.1 497.6L230.9 497.7L231.7 497.8L232.5 497.7L233.3 497.9L234.1 497.7L234.9 497.9L235.7 497.9L236.6 498.2L237.4 498.2L238.2 498.1L239.0 497.9L239.8 498.1L240.6 498.3L241.4 498.1L242.2 498.3L243.0 498.3L243.8 498.2L244.6 498.6L245.4 498.6L246.2 498.4L247.0 498.6L247.8 498.5L248.6 498.6L249.4 498.7L250.2 498.6L251.1 498.7L251.9 498.8L252.7 498.9L253.5 498.8L254.3 498.8L255.1 499.1L255.9 499.0L256.7 499.3L257.5 499.1L258.3 499.3L259.1 499.1L259.9 499.4L260.7 499.1L261.5 499.2L262.3 499.2L263.1 499.5L263.9 499.6L264.7 499.4L265.5 499.5L266.4 499.7L267.2 499.7L268.0 499.5L268.8 499.6L269.6 499.7L270.4 499.7L271.2 499.8L272.0 499.8L272.8 500.1L273.6 500.0L274.4 500.1L275.2 500.2L276.0 500.3L276.8 500.3L277.6 500.2L278.4 500.2L279.2 500.3L280.0 500.2L280.9 500.4L281.7 500.6L282.5 500.7L283.3 500.7L284.1 500.7L284.9 500.7L285.7 500.5L286.5 500.7L287.3 500.8L288.1 500.9L288.9 500.8L289.7 500.9L290.5 501.0L291.3 501.2L292.1 501.2L292.9 501.2L293.7 501.1L294.5 501.4L295.4 501.5L296.2 501.4L297.0 501.3L297.8 501.4L298.6 501.3L299.4 501.6L300.2 501.8L301.0 501.6L301.8 501.8L302.6 501.9L303.4 501.7L304.2 502.0L305.0 501.9L305.8 501.8L306.6 501.8L307.4 501.9L308.2 502.1L309.0 502.2L309.8 502.1L310.7 502.4L311.5 502.2L312.3 502.3L313.1 502.2L313.9 502.6L313.9 190.7L314.5 207.6L315.2 216.3L315.9 219.8L316.6 223.6L317.3 226.5L318.0 227.8L318.7 231.8L319.4 233.6L320.1 234.3L320.8 234.6L321.5 233.8L322.2 237.0L322.9 235.8L323.6 238.5L324.3 236.8L325.0 238.5L325.7 239.8L326.4 238.1L327.1 239.8L327.8 238.6L328.5 238.8L329.2 239.7L329.9 242.9L330.6 243.1L331.3 242.5L332.0 241.7L332.7 243.3L333.4 243.8L334.1 243.0L334.8 244.0L335.5 245.1L336.2 242.8L336.9 243.7L337.6 245.0L338.3 244.2L339.0 245.4L339.7 246.3L340.4 245.3L341.1 246.8L341.8 246.2L342.5 247.6L343.2 247.1L343.9 248.4L344.6 246.7L345.3 249.1L346.0 247.6L346.7 250.7L347.4 249.8L348.1 249.6L348.8 249.7L349.5 250.7L350.2 251.2L350.9 251.7L351.6 252.0L352.3 251.4L353.0 253.4L353.7 253.1L354.4 253.4L355.1 252.2L355.8 252.5L356.5 253.2L357.2 254.6L357.9 253.6L358.6 253.8L359.3 253.8L360.0 255.6L360.7 253.9L361.4 253.2L362.1 255.7L362.8 256.6L363.5 256.2L364.2 256.0L364.9 256.8L365.6 255.5L366.3 256.7L367.0 255.1L367.7 255.5L368.4 256.9L369.1 257.3L369.8 257.1L370.5 256.2L371.2 258.6L371.9 258.2L372.6 257.4L373.3 257.9L374.1 258.4L374.8 258.0L375.5 257.7L376.2 260.7L376.9 261.1L377.6 260.3L378.3 261.2L379.0 259.9L379.7 261.4L380.4 259.6L381.1 261.5L381.8 261.1L382.5 262.4L383.2 259.9L383.9 262.4L384.6 260.3L385.3 261.9L386.0 263.5L386.7 260.4L387.4 261.4L388.1 261.8L388.8 262.0L389.5 261.3L390.2 264.3L390.9 264.2L391.6 263.0L392.3 263.0L393.0 263.9L393.7 262.2L394.4 262.3L395.1 265.5L395.8 263.6L396.5 264.4L397.2 266.0L397.9 266.3L398.6 264.8L399.3 264.0L399.4 552.7L400.2 541.0L401.0 534.4L401.8 529.2L402.6 525.9L403.4 523.7L404.2 521.5L405.0 520.1L405.9 519.0L406.7 518.6L407.5 518.0L408.3 517.2L409.1 516.9L409.9 516.3L410.7 516.2L411.5 515.6L412.3 515.4L413.1 515.4L413.9 515.0L414.7 515.1L415.5 514.9L416.3 514.7L417.1 514.4L417.9 514.5L418.7 514.6L419.5 514.4L420.3 514.2L421.1 514.3L421.9 514.3L422.8 514.5L423.6 514.3L424.4 514.3L425.2 514.3L426.0 514.5L426.8 514.5L427.6 514.3L428.4 514.4L429.2 514.5L430.0 514.4L430.8 514.3L431.6 514.3L432.4 514.6L433.2 514.5L434.0 514.3L434.8 514.4L435.6 514.2L436.4 514.6L437.2 514.4L438.0 514.4L438.9 514.4L439.7 514.2L440.5 514.4L441.3 514.3L442.1 514.3L442.9 514.5L443.7 514.2L444.5 514.3L445.3 514.5L446.1 514.3L446.9 514.3L447.7 514.4L448.5 514.3L449.3 514.5L450.1 514.6L450.9 514.2L451.7 514.4L452.5 514.5L453.3 514.3L454.1 514.6L455.0 514.4L455.8 514.3L456.6 514.4L457.4 514.4L458.2 514.3L459.0 514.4L459.8 514.5L460.6 514.4L461.4 514.4L462.2 514.5L463.0 514.5L463.8 514.4L464.6 514.6L465.4 514.3L466.2 514.5L467.0 514.3L467.8 514.4L468.6 514.3L469.4 514.4L470.2 514.5L471.1 514.5L471.9 514.5L472.7 514.3L473.5 514.4L474.3 514.3L475.1 514.4L475.9 514.4L476.7 514.2L477.5 514.4L478.3 514.5L479.1 514.4L479.9 514.5L480.7 514.3L481.5 514.2L482.3 514.2L483.1 514.4L483.9 514.4L483.6 158.3L484.5 165.9L485.2 168.4L485.9 173.0L486.6 173.0L487.3 178.1L488.0 179.0L488.7 180.7L489.4 183.3L490.1 183.1L490.8 184.3L491.5 186.4L492.2 186.9L492.9 189.2L493.6 191.6L494.3 192.6L495.0 193.0L495.7 195.4L496.4 194.9L497.1 198.6L497.8 197.6L498.5 199.0L499.2 199.8L499.9 202.7L500.6 204.3L501.3 205.2L502.0 203.8L502.7 206.1L503.4 207.0L504.1 207.5L504.8 211.0L505.5 208.9L506.2 211.4L506.9 213.2L507.6 214.9L508.3 213.0L509.0 215.0L509.7 216.9L510.4 215.3L511.1 216.9L511.8 220.0L512.5 218.3L513.2 220.0L513.9 220.5L514.6 221.7L515.3 221.3L516.0 222.0L516.7 226.0L517.4 226.0L518.1 226.6L518.8 225.6L519.5 226.4L520.2 228.2L520.9 227.8L521.6 229.3L522.3 231.5L523.0 230.3L523.7 230.9L524.4 233.7L525.1 233.1L525.8 231.8L526.5 233.6L527.2 235.1L527.9 233.7L528.6 235.2L529.3 237.0L530.0 238.2L530.7 237.8L531.4 239.4L532.1 238.5L532.8 238.8L533.5 240.9L534.2 239.8L534.9 241.7L535.6 240.3L536.3 241.2L537.0 241.2L537.7 242.9L538.4 242.1L539.1 242.7L539.8 243.2L540.5 244.5L541.2 244.4L541.9 245.4L542.6 247.6L543.3 247.0L544.1 248.1L544.8 246.2L545.5 247.3L546.2 246.6L546.9 249.1L547.6 248.4L548.3 248.5L549.0 248.0L549.7 248.9L550.4 249.6L551.1 250.4L551.8 252.6L552.5 252.2L553.2 251.0L553.9 251.7L554.6 251.3L555.3 254.3L556.0 252.7L556.7 254.4L557.4 254.6L558.1 255.5L558.8 252.8L559.5 254.1L560.2 254.6L560.9 253.9L561.6 256.9L562.3 255.3L563.0 257.1L563.7 256.5L564.4 255.2L565.1 256.7L565.8 256.4L566.5 256.0L567.2 256.6L567.9 258.4L568.6 256.7L569.3 257.9L569.0 556.6L570.2 541.0L571.0 531.3L571.8 525.8L572.6 524.8L573.4 523.7L574.2 523.3L575.0 522.9L575.9 522.2L576.7 521.7L577.5 521.2L578.3 521.0L579.1 520.5L579.9 520.1L580.7 520.0L581.5 519.5L582.3 519.3L583.1 519.1L583.9 518.8L584.7 518.6L585.5 518.4L586.3 518.5L587.1 518.4L587.9 518.4L588.7 518.3L589.5 518.0L590.3 518.0L591.1 518.0L591.9 517.6L592.8 517.7L593.6 517.6L594.4 517.7L595.2 517.6L596.0 517.3L596.8 517.4L597.6 517.1L598.4 517.2L599.2 517.2L600.0 517.0L600.8 517.1L601.6 517.1L602.4 517.1L603.2 517.0L604.0 517.0L604.8 517.0L605.6 517.0L606.4 516.9L607.2 517.1L608.0 516.9L608.9 516.8L609.7 516.9L610.5 516.9L611.3 516.8L612.1 516.9L612.9 517.0L613.7 516.9L614.5 516.9L615.3 516.6L616.1 516.8L616.9 516.7L617.7 516.6L618.5 516.7L619.3 516.6L620.1 516.7L620.9 516.8L621.7 516.7L622.5 516.6L623.3 516.6L624.1 516.5L625.0 516.6L625.8 516.8L626.6 516.7L627.4 516.5L628.2 516.7L629.0 516.5L629.8 516.6L630.6 516.6L631.4 516.8L632.2 516.5L633.0 516.6L633.8 516.7L634.6 516.7L635.4 516.6L636.2 516.6L637.0 516.5L637.8 516.5L638.6 516.4L639.4 516.6L640.2 516.7L641.1 516.5L641.9 516.7L642.7 516.3L643.5 516.3L644.3 516.5L645.1 516.4L645.9 516.4L646.7 516.7L647.5 516.3L648.3 516.3L649.1 516.4L649.9 516.5L650.7 516.4L651.5 516.3L652.3 516.5L653.1 516.4L653.9 516.4L653.4 192.0L654.5 211.4L655.2 218.4L655.9 222.7L656.6 226.5L657.3 228.9L658.0 231.8L658.7 233.9L659.4 233.0L660.1 234.0L660.8 236.8L661.5 235.6L662.2 237.7L662.9 238.2L663.6 238.8L664.3 240.3L665.0 240.3L665.7 238.6L666.4 240.7L667.1 240.7L667.8 241.4L668.5 241.2L669.2 241.4L669.9 243.4L670.6 243.1L671.3 242.5L672.0 243.0L672.7 243.7L673.4 243.6L674.1 245.1L674.8 244.2L675.5 244.4L676.2 244.8L676.9 245.3L677.6 247.7L678.3 246.0L679.0 247.5L679.7 249.0L680.4 248.4L681.1 247.6L681.8 250.4L682.5 250.7L683.2 248.3L683.9 249.3L684.6 250.5L685.3 251.8L686.0 250.7L686.7 252.1L687.4 250.8L688.1 252.7L688.8 251.7L689.5 252.0L690.2 253.7L690.9 254.3L691.6 254.5L692.3 253.9L693.0 253.7L693.7 254.9L694.4 254.9L695.1 255.9L695.8 256.0L696.5 254.0L697.2 255.1L697.9 256.3L698.6 255.1L699.3 255.1L700.0 254.8L700.7 257.0L701.4 258.4L702.1 258.7L702.8 256.1L703.5 258.2L704.2 257.5L704.9 258.4L705.6 257.9L706.3 259.9L707.0 260.3L707.7 257.3L708.4 259.7L709.1 257.9L709.8 257.8L710.5 258.8L711.2 260.5L711.9 261.6L712.6 258.8L713.3 259.7L714.1 258.9L714.8 260.8L715.5 260.8L716.2 260.6L716.9 260.5L717.6 262.3L718.3 262.6L719.0 260.9L719.7 261.4L720.4 262.3L721.1 263.0L721.8 263.9L722.5 262.0L723.2 263.2L723.9 262.8L724.6 263.8L725.3 261.7L726.0 262.0L726.7 261.9L727.4 264.8L728.1 262.6L728.8 263.6L729.5 262.4L730.2 263.3L730.9 262.3L731.6 264.3L732.3 263.0L733.0 264.8L733.7 263.7L734.4 263.6L735.1 264.6L735.8 264.3L736.5 264.1L737.2 263.5L737.9 263.6L738.6 266.6L739.3 264.7L738.6 555.3L740.2 543.5L741.0 536.5L741.8 531.5L742.6 529.3L743.4 527.3L744.2 526.2L745.0 525.0L745.9 524.3L746.7 523.8L747.5 523.0L748.3 522.4L749.1 522.1L749.9 521.7L750.7 521.3L751.5 520.9L752.3 520.9L753.1 520.6L753.9 520.5L754.7 520.1L755.5 520.2L756.3 520.0L757.1 519.6L757.9 519.5L758.7 519.4L759.5 519.3L760.3 519.2L761.1 519.2L761.9 519.2L762.8 519.0L763.6 519.0L764.4 518.7L765.2 518.7L766.0 519.0L766.8 518.5L767.6 518.7L768.4 518.8L769.2 518.7L770.0 518.7L770.8 518.5L771.6 518.7L772.4 518.7L773.2 518.6L774.0 518.7L774.8 518.3L775.6 518.7L776.4 518.4L777.2 518.6L778.0 518.4L778.9 518.6L779.7 518.3L780.5 518.5L781.3 518.3L782.1 518.4L782.9 518.4L783.7 518.5L784.5 518.5L785.3 518.4L786.1 518.5L786.9 518.3L787.7 518.3L788.5 518.5L789.3 518.3L790.1 518.2L790.9 518.3L791.7 518.5L792.5 518.2L793.3 518.5L794.1 518.4L795.0 518.4L795.8 518.2L796.6 518.2L797.4 518.2L798.2 518.3L799.0 518.3L799.8 518.1L800.6 518.3L801.4 518.3L802.2 518.2L803.0 518.3L803.8 518.5L804.6 518.2L805.4 518.5L806.2 518.2L807.0 518.4L807.8 518.1L808.6 518.5L809.4 518.3L810.2 518.5L811.1 518.2L811.9 518.2L812.7 518.4L813.5 518.2L814.3 518.2L815.1 518.3L815.9 518.5L816.7 518.2L817.5 518.1L818.3 518.2L819.1 518.5L819.9 518.1L820.7 518.3L821.5 518.2L822.3 518.3L823.1 518.2L823.9 518.3L823.8 182.9L824.6 215.4L825.3 225.6L826.0 232.2L826.7 237.1L827.4 241.2L828.1 242.5L828.9 247.1L829.6 248.2L830.3 248.6L831.0 250.3L831.7 250.3L832.4 250.9L833.1 251.0L833.8 252.7L834.5 253.1L835.2 253.4L835.9 252.1L836.6 254.6L837.3 254.3L838.0 255.2L838.7 255.6L839.4 257.0L840.1 254.7L840.8 256.1L841.5 258.2L842.2 257.7L843.0 256.5L843.7 258.3L844.4 259.5L845.1 257.7L845.8 259.6L846.5 257.4L847.2 260.6L847.9 259.2L848.6 258.6L849.3 260.9L850.0 260.5L850.7 261.7L851.4 261.6L852.1 261.8L852.8 261.0L853.5 262.9L854.2 260.0L854.9 263.0L855.6 262.7L856.3 261.3L857.1 263.4L857.8 262.4L858.5 262.9L859.2 264.3L859.9 262.2L860.6 262.7L861.3 264.1L862.0 262.4L862.7 264.2L863.4 265.2L864.1 264.4L864.8 263.7L865.5 265.8L866.2 266.1L866.9 266.0L867.6 265.5L868.3 266.8L869.0 266.6L869.7 264.6L870.5 265.5L871.2 264.7L871.9 264.7L872.6 265.9L873.3 267.8L874.0 267.8L874.7 265.5L875.4 265.9L876.1 266.8L876.8 268.5L877.5 267.8L878.2 268.9L878.9 266.2L879.6 269.5L880.3 266.9L881.0 268.5L881.7 269.5L882.4 269.1L883.1 267.4L883.8 269.1L884.6 268.4L885.3 267.1L886.0 268.3L886.7 268.3L887.4 269.5L888.1 268.4L888.8 269.6L889.5 270.1L890.2 268.4L890.9 268.3L891.6 270.3L892.3 269.7L893.0 268.6L893.7 268.7L894.4 271.6L895.1 270.5L895.8 269.8L896.5 269.3L897.2 272.1L897.9 271.1L898.7 271.4L899.4 270.2L900.1 270.1L900.8 270.5L901.5 269.7L902.2 271.4L902.9 270.8L903.6 272.2L904.3 270.9L905.0 271.1L905.7 271.3L906.4 272.9L907.1 270.9L907.8 272.2" stroke="#006400" stroke-width="4.3"/>
<path d="M314.5 207.6L315.2 216.3L315.9 219.8L316.6 223.6L317.3 226.5L318.0 227.8L318.7 231.8L319.4 233.6L320.1 234.3L320.8 234.6L321.5 233.8L322.2 237.0L322.9 235.8L323.6 238.5L324.3 236.8L325.0 238.5L325.7 239.8L326.4 238.1L327.1 239.8L327.8 238.6L328.5 238.8L329.2 239.7L329.9 242.9L330.6 243.1L331.3 242.5L332.0 241.7L332.7 243.3L333.4 243.8L334.1 243.0L334.8 244.0L335.5 245.1L336.2 242.8L336.9 243.7L337.6 245.0L338.3 244.2L339.0 245.4L339.7 246.3L340.4 245.3L341.1 246.8L341.8 246.2L342.5 247.6L343.2 247.1L343.9 248.4L344.6 246.7L345.3 249.1L346.0 247.6L346.7 250.7L347.4 249.8L348.1 249.6L348.8 249.7L349.5 250.7L350.2 251.2L350.9 251.7L351.6 252.0L352.3 251.4L353.0 253.4L353.7 253.1L354.4 253.4L355.1 252.2L355.8 252.5L356.5 253.2L357.2 254.6L357.9 253.6L358.6 253.8L359.3 253.8L360.0 255.6L360.7 253.9L361.4 253.2L362.1 255.7L362.8 256.6L363.5 256.2L364.2 256.0L364.9 256.8L365.6 255.5L366.3 256.7L367.0 255.1L367.7 255.5L368.4 256.9L369.1 257.3L369.8 257.1L370.5 256.2L371.2 258.6L371.9 258.2L372.6 257.4L373.3 257.9L374.1 258.4L374.8 258.0L375.5 257.7L376.2 260.7L376.9 261.1L377.6 260.3L378.3 261.2L379.0 259.9L379.7 261.4L380.4 259.6L381.1 261.5L381.8 261.1L382.5 262.4L383.2 259.9L383.9 262.4L384.6 260.3L385.3 261.9L386.0 263.5L386.7 260.4L387.4 261.4L388.1 261.8L388.8 262.0L389.5 261.3L390.2 264.3L390.9 264.2L391.6 263.0L392.3 263.0L393.0 263.9L393.7 262.2L394.4 262.3L395.1 265.5L395.8 263.6L396.5 264.4L397.2 266.0L397.9 266.3L398.6 264.8L399.3 264.0M484.5 165.9L485.2 168.4L485.9 173.0L486.6 173.0L487.3 178.1L488.0 179.0L488.7 180.7L489.4 183.3L490.1 183.1L490.8 184.3L491.5 186.4L492.2 186.9L492.9 189.2L493.6 191.6L494.3 192.6L495.0 193.0L495.7 195.4L496.4 194.9L497.1 198.6L497.8 197.6L498.5 199.0L499.2 199.8L499.9 202.7L500.6 204.3L501.3 205.2L502.0 203.8L502.7 206.1L503.4 207.0L504.1 207.5L504.8 211.0L505.5 208.9L506.2 211.4L506.9 213.2L507.6 214.9L508.3 213.0L509.0 215.0L509.7 216.9L510.4 215.3L511.1 216.9L511.8 220.0L512.5 218.3L513.2 220.0L513.9 220.5L514.6 221.7L515.3 221.3L516.0 222.0L516.7 226.0L517.4 226.0L518.1 226.6L518.8 225.6L519.5 226.4L520.2 228.2L520.9 227.8L521.6 229.3L522.3 231.5L523.0 230.3L523.7 230.9L524.4 233.7L525.1 233.1L525.8 231.8L526.5 233.6L527.2 235.1L527.9 233.7L528.6 235.2L529.3 237.0L530.0 238.2L530.7 237.8L531.4 239.4L532.1 238.5L532.8 238.8L533.5 240.9L534.2 239.8L534.9 241.7L535.6 240.3L536.3 241.2L537.0 241.2L537.7 242.9L538.4 242.1L539.1 242.7L539.8 243.2L540.5 244.5L541.2 244.4L541.9 245.4L542.6 247.6L543.3 247.0L544.1 248.1L544.8 246.2L545.5 247.3L546.2 246.6L546.9 249.1L547.6 248.4L548.3 248.5L549.0 248.0L549.7 248.9L550.4 249.6L551.1 250.4L551.8 252.6L552.5 252.2L553.2 251.0L553.9 251.7L554.6 251.3L555.3 254.3L556.0 252.7L556.7 254.4L557.4 254.6L558.1 255.5L558.8 252.8L559.5 254.1L560.2 254.6L560.9 253.9L561.6 256.9L562.3 255.3L563.0 257.1L563.7 256.5L564.4 255.2L565.1 256.7L565.8 256.4L566.5 256.0L567.2 256.6L567.9 258.4L568.6 256.7L569.3 257.9M654.5 211.4L655.2 218.4L655.9 222.7L656.6 226.5L657.3 228.9L658.0 231.8L658.7 233.9L659.4 233.0L660.1 234.0L660.8 236.8L661.5 235.6L662.2 237.7L662.9 238.2L663.6 238.8L664.3 240.3L665.0 240.3L665.7 238.6L666.4 240.7L667.1 240.7L667.8 241.4L668.5 241.2L669.2 241.4L669.9 243.4L670.6 243.1L671.3 242.5L672.0 243.0L672.7 243.7L673.4 243.6L674.1 245.1L674.8 244.2L675.5 244.4L676.2 244.8L676.9 245.3L677.6 247.7L678.3 246.0L679.0 247.5L679.7 249.0L680.4 248.4L681.1 247.6L681.8 250.4L682.5 250.7L683.2 248.3L683.9 249.3L684.6 250.5L685.3 251.8L686.0 250.7L686.7 252.1L687.4 250.8L688.1 252.7L688.8 251.7L689.5 252.0L690.2 253.7L690.9 254.3L691.6 254.5L692.3 253.9L693.0 253.7L693.7 254.9L694.4 254.9L695.1 255.9L695.8 256.0L696.5 254.0L697.2 255.1L697.9 256.3L698.6 255.1L699.3 255.1L700.0 254.8L700.7 257.0L701.4 258.4L702.1 258.7L702.8 256.1L703.5 258.2L704.2 257.5L704.9 258.4L705.6 257.9L706.3 259.9L707.0 260.3L707.7 257.3L708.4 259.7L709.1 257.9L709.8 257.8L710.5 258.8L711.2 260.5L711.9 261.6L712.6 258.8L713.3 259.7L714.1 258.9L714.8 260.8L715.5 260.8L716.2 260.6L716.9 260.5L717.6 262.3L718.3 262.6L719.0 260.9L719.7 261.4L720.4 262.3L721.1 263.0L721.8 263.9L722.5 262.0L723.2 263.2L723.9 262.8L724.6 263.8L725.3 261.7L726.0 262.0L726.7 261.9L727.4 264.8L728.1 262.6L728.8 263.6L729.5 262.4L730.2 263.3L730.9 262.3L731.6 264.3L732.3 263.0L733.0 264.8L733.7 263.7L734.4 263.6L735.1 264.6L735.8 264.3L736.5 264.1L737.2 263.5L737.9 263.6L738.6 266.6L739.3 264.7M824.6 215.4L825.3 225.6L826.0 232.2L826.7 237.1L827.4 241.2L828.1 242.5L828.9 247.1L829.6 248.2L830.3 248.6L831.0 250.3L831.7 250.3L832.4 250.9L833.1 251.0L833.8 252.7L834.5 253.1L835.2 253.4L835.9 252.1L836.6 254.6L837.3 254.3L838.0 255.2L838.7 255.6L839.4 257.0L840.1 254.7L840.8 256.1L841.5 258.2L842.2 257.7L843.0 256.5L843.7 258.3L844.4 259.5L845.1 257.7L845.8 259.6L846.5 257.4L847.2 260.6L847.9 259.2L848.6 258.6L849.3 260.9L850.0 260.5L850.7 261.7L851.4 261.6L852.1 261.8L852.8 261.0L853.5 262.9L854.2 260.0L854.9 263.0L855.6 262.7L856.3 261.3L857.1 263.4L857.8 262.4L858.5 262.9L859.2 264.3L859.9 262.2L860.6 262.7L861.3 264.1L862.0 262.4L862.7 264.2L863.4 265.2L864.1 264.4L864.8 263.7L865.5 265.8L866.2 266.1L866.9 266.0L867.6 265.5L868.3 266.8L869.0 266.6L869.7 264.6L870.5 265.5L871.2 264.7L871.9 264.7L872.6 265.9L873.3 267.8L874.0 267.8L874.7 265.5L875.4 265.9L876.1 266.8L876.8 268.5L877.5 267.8L878.2 268.9L878.9 266.2L879.6 269.5L880.3 266.9L881.0 268.5L881.7 269.5L882.4 269.1L883.1 267.4L883.8 269.1L884.6 268.4L885.3 267.1L886.0 268.3L886.7 268.3L887.4 269.5L888.1 268.4L888.8 269.6L889.5 270.1L890.2 268.4L890.9 268.3L891.6 270.3L892.3 269.7L893.0 268.6L893.7 268.7L894.4 271.6L895.1 270.5L895.8 269.8L896.5 269.3L897.2 272.1L897.9 271.1L898.7 271.4L899.4 270.2L900.1 270.1L900.8 270.5L901.5 269.7L902.2 271.4L902.9 270.8L903.6 272.2L904.3 270.9L905.0 271.1L905.7 271.3L906.4 272.9L907.1 270.9L907.8 272.2" stroke="#006400" stroke-width="5.8"/>
</g>
<g stroke="#000" stroke-width="5.3" fill="none">
<path d="M228.5 32.5V602.0"/>
<path d="M212.0 36.7H907.5"/>
<path d="M907.5 32.5V602.0"/>
<path d="M212.0 587.0H907.5"/>
<path d="M212.0 587.0H228.5"/>
<path d="M220.5 541.1H228.5"/>
<path d="M212.0 495.3H228.5"/>
<path d="M220.5 449.4H228.5"/>
<path d="M212.0 403.6H228.5"/>
<path d="M220.5 357.7H228.5"/>
<path d="M212.0 311.9H228.5"/>
<path d="M220.5 266.0H228.5"/>
<path d="M212.0 220.1H228.5"/>
<path d="M220.5 174.3H228.5"/>
<path d="M212.0 128.4H228.5"/>
<path d="M220.5 82.6H228.5"/>
<path d="M212.0 36.7H228.5"/>
<path d="M228.5 587.0V602.0"/>
<path d="M313.4 587.0V593.5"/>
<path d="M398.2 587.0V602.0"/>
<path d="M483.1 587.0V593.5"/>
<path d="M568.0 587.0V602.0"/>
<path d="M652.9 587.0V593.5"/>
<path d="M737.8 587.0V602.0"/>
<path d="M822.6 587.0V593.5"/>
<path d="M907.5 587.0V602.0"/>
</g>
<g font-size="35.5px" text-anchor="end">
<text x="201.3" y="596.6">-1</text>
<text x="201.3" y="504.9">0</text>
<text x="201.3" y="413.2">1</text>
<text x="201.3" y="321.5">2</text>
<text x="201.3" y="229.7">3</text>
<text x="201.3" y="138.0">4</text>
<text x="201.3" y="46.3">5</text>
</g>
<g font-size="35.5px" text-anchor="middle">
<text x="227.5" y="640.7">0</text>
<text x="397.2" y="640.7">100</text>
<text x="567.0" y="640.7">200</text>
<text x="736.8" y="640.7">300</text>
<text x="906.5" y="640.7">400</text>
</g>
<text x="537.5" y="678.3" font-size="42.5px" text-anchor="middle" letter-spacing="0.1">Time (s)</text>
<text transform="translate(147.5,311.5) rotate(-90)" font-size="43px" text-anchor="middle" letter-spacing="0.25" word-spacing="-3">Current density (μA/cm<tspan font-size="28px" dy="-17.5">2</tspan><tspan dy="17.5">)</tspan></text>
<text x="12" y="65.3" font-size="55px">(a)</text>
<g font-size="26px" letter-spacing="0.5">
<path d="M689 58.3H748" stroke="#000000" stroke-width="4" stroke-linecap="round" fill="none"/>
<text x="753.5" y="67.8">In(0)</text>
<path d="M689 92.0H748" stroke="#0000ff" stroke-width="4" stroke-linecap="round" fill="none"/>
<text x="753.5" y="101.5">In(1)</text>
<path d="M689 125.8H748" stroke="#ff0000" stroke-width="4" stroke-linecap="round" fill="none"/>
<text x="753.5" y="135.3">In(2)</text>
<path d="M689 159.6H748" stroke="#006400" stroke-width="4" stroke-linecap="round" fill="none"/>
<text x="753.5" y="169.1">In(3)</text>
</g>
<text x="352" y="95.5" font-size="30px" letter-spacing="0.1">light on</text>
<text x="279" y="548" font-size="30px" letter-spacing="0.3">light off</text>
<path d="M351.3 108.8L331.2 133.8" stroke="#000" stroke-width="2.2" fill="none"/>
<path d="M319.0 149.0L328.0 128.7L336.9 135.8Z" fill="#000"/>
<path d="M358.8 526.0L379.0 501.3" stroke="#000" stroke-width="2.2" fill="none"/>
<path d="M391.3 486.2L382.1 506.5L373.3 499.2Z" fill="#000"/>
<g fill="none" stroke-linejoin="round" stroke-linecap="round" stroke-width="5.2">
<path d="M1201.3 339.7L1201.7 338.3L1202.1 336.8L1202.5 335.4L1202.9 334.0L1203.4 332.5L1203.9 331.1L1204.4 329.7L1204.9 328.3L1205.5 326.9L1206.0 325.5L1206.7 324.2L1207.3 322.8L1207.9 321.5L1208.6 320.1L1209.4 318.8L1210.1 317.5L1210.9 316.2L1211.7 315.0L1212.5 313.8L1213.4 312.5L1214.3 311.4L1215.3 310.2L1216.3 309.1L1217.3 308.0L1218.3 306.9L1219.4 305.9L1220.5 304.8L1221.6 303.8L1222.7 302.8L1223.8 301.8L1225.0 300.9L1226.1 299.9L1227.3 299.0L1228.5 298.1L1229.7 297.2L1230.9 296.3L1232.1 295.4L1233.3 294.6L1234.6 293.7L1235.9 292.9L1237.1 292.2L1238.4 291.4L1239.8 290.7L1241.1 290.0L1242.4 289.3L1243.8 288.7L1245.1 288.0L1246.5 287.4L1247.9 286.9L1249.3 286.3L1250.7 285.8L1252.1 285.3L1253.5 284.8L1254.9 284.4L1256.4 284.0L1257.8 283.6L1259.3 283.2L1260.7 282.9L1262.2 282.6L1263.7 282.3L1265.2 282.1L1266.6 281.9L1268.1 281.7L1269.6 281.6L1271.1 281.5L1272.6 281.4L1274.1 281.4L1275.6 281.4L1277.1 281.4L1278.6 281.4L1280.1 281.4L1281.6 281.4L1283.1 281.5L1284.6 281.5L1286.1 281.5L1287.6 281.5L1289.1 281.6L1290.6 281.6L1292.1 281.6L1293.6 281.6L1295.1 281.6L1296.6 281.6L1298.1 281.6L1299.6 281.6L1301.1 281.6L1302.6 281.6L1304.1 281.6L1305.6 281.6L1307.1 281.6L1308.6 281.6L1310.1 281.6L1311.6 281.6L1313.1 281.6L1314.6 281.6L1316.1 281.6L1317.6 281.6L1319.1 281.5L1320.6 281.5L1322.1 281.5L1323.6 281.5L1325.1 281.5L1326.6 281.5L1328.1 281.5L1329.6 281.5L1331.1 281.5L1332.6 281.5L1334.1 281.5L1335.6 281.5L1337.1 281.5L1338.6 281.5L1340.1 281.5L1341.6 281.5L1343.1 281.5L1344.6 281.5L1346.1 281.5L1347.6 281.5L1349.1 281.6L1350.6 281.6L1352.1 281.6L1353.6 281.6L1355.1 281.6L1356.6 281.6L1358.1 281.6L1359.6 281.6L1361.1 281.6L1362.6 281.6L1364.1 281.6L1365.6 281.5L1367.1 281.5L1368.6 281.5L1370.1 281.5L1371.6 281.5L1373.1 281.5L1374.6 281.5L1376.1 281.5L1377.6 281.5L1379.1 281.5L1380.6 281.5L1382.1 281.5L1383.6 281.5L1385.1 281.5L1386.6 281.4L1388.1 281.4L1389.6 281.4L1391.1 281.4L1392.6 281.4L1394.1 281.4L1395.6 281.4L1397.1 281.4L1398.6 281.4L1400.1 281.4L1401.6 281.3L1403.1 281.3L1404.6 281.3L1406.1 281.3L1407.6 281.3L1409.1 281.3L1410.6 281.2L1412.1 281.2L1413.6 281.2L1415.1 281.2L1416.6 281.2L1418.1 281.2L1419.6 281.1L1421.1 281.1L1422.6 281.1L1424.1 281.1L1425.6 281.1L1427.1 281.0L1428.6 281.0L1430.1 281.0L1431.6 281.0L1433.1 281.0L1434.6 280.9L1436.1 280.9L1437.6 280.9L1439.1 280.9L1440.6 280.9L1442.1 280.8L1443.6 280.8L1445.1 280.8L1446.6 280.8L1448.2 280.8L1449.7 280.7L1451.2 280.7L1452.7 280.7L1454.2 280.7L1455.7 280.7L1457.2 280.6L1458.7 280.6L1460.2 280.6L1461.7 280.6L1463.2 280.6L1464.7 280.5L1466.2 280.5L1467.7 280.5L1469.2 280.5L1470.7 280.5L1472.2 280.5L1473.7 280.4L1475.2 280.4L1476.7 280.4L1478.2 280.4L1479.7 280.4L1481.2 280.4L1482.7 280.3L1484.2 280.3L1485.7 280.3L1487.2 280.3L1488.7 280.3L1490.2 280.2L1491.7 280.2L1493.2 280.2L1494.7 280.2L1496.2 280.1L1497.7 280.1L1499.2 280.1L1500.7 280.1L1502.2 280.0L1503.7 280.0L1505.2 279.9L1506.7 279.9L1508.2 279.9L1509.7 279.8L1511.2 279.8L1512.7 279.7L1514.2 279.6L1515.7 279.6L1517.2 279.5L1518.7 279.5L1520.2 279.4L1521.7 279.3L1523.2 279.3L1524.7 279.2L1526.2 279.1L1527.6 279.0L1529.1 279.0L1530.6 278.9L1532.1 278.8L1533.6 278.8L1535.1 278.7L1536.6 278.6L1538.1 278.5L1539.6 278.5L1541.1 278.4L1542.6 278.3L1544.1 278.3L1545.6 278.2L1547.1 278.1L1548.6 278.1L1550.1 278.0L1551.6 278.0L1553.1 277.9L1554.6 277.9L1556.1 277.8L1557.6 277.8L1559.1 277.7L1560.6 277.7L1562.1 277.6L1563.6 277.6L1565.1 277.6L1566.6 277.5L1568.1 277.5L1569.6 277.5L1571.1 277.4L1572.6 277.4L1574.1 277.4L1575.6 277.4L1577.1 277.3L1578.6 277.3L1580.1 277.3L1581.6 277.2L1583.1 277.2L1584.6 277.2L1586.1 277.2L1587.6 277.1L1589.1 277.1L1590.6 277.1L1592.1 277.0L1593.6 277.0L1595.1 277.0L1596.6 277.0L1598.1 276.9L1599.6 276.9L1601.1 276.9L1602.6 276.9L1604.1 276.8L1605.6 276.8L1607.1 276.8L1608.6 276.7L1610.1 276.7L1611.6 276.7L1613.1 276.6L1614.6 276.6L1616.1 276.5L1617.6 276.5L1619.1 276.4L1620.6 276.3L1622.1 276.2L1623.6 276.2L1625.1 276.1L1626.6 276.0L1628.1 275.9L1629.6 275.8L1631.1 275.7L1632.6 275.6L1634.1 275.5L1635.6 275.5L1637.1 275.4L1638.6 275.3L1640.1 275.2L1641.6 275.1L1643.1 275.1L1644.6 275.0L1646.1 274.9L1647.6 274.9L1649.1 274.8L1650.6 274.7L1652.1 274.7L1653.6 274.6L1655.1 274.6L1656.6 274.5L1658.1 274.5L1659.6 274.4L1661.1 274.3L1662.6 274.3L1664.1 274.2L1665.6 274.2L1667.1 274.1L1668.6 274.1L1670.1 274.0L1671.6 274.0L1673.1 273.9L1674.6 273.9L1676.1 273.8L1677.6 273.7L1679.1 273.7L1680.6 273.6L1682.1 273.5L1683.6 273.4L1685.1 273.4L1686.6 273.3L1688.1 273.2L1689.6 273.1L1691.1 273.0L1692.6 272.8L1694.0 272.7L1695.5 272.6L1697.0 272.4L1698.5 272.3L1700.0 272.1L1701.5 272.0L1703.0 271.8L1704.5 271.6L1706.0 271.4L1707.5 271.3L1709.0 271.1L1710.4 270.9L1711.9 270.7L1713.4 270.5L1714.9 270.3L1716.4 270.1L1717.9 269.9L1719.4 269.8L1720.9 269.6L1722.4 269.4L1723.8 269.2L1725.3 269.0L1726.8 268.8L1728.3 268.5L1729.8 268.3L1731.3 268.1L1732.8 267.9L1734.2 267.7L1735.7 267.4L1737.2 267.2L1738.7 266.9L1740.2 266.7L1741.6 266.4L1743.1 266.2L1744.6 265.9L1746.1 265.6L1747.5 265.3L1749.0 265.0L1750.5 264.7L1751.9 264.4L1753.4 264.1L1754.8 263.7L1756.3 263.4L1757.8 263.0L1759.2 262.7L1760.7 262.3L1762.1 261.9L1763.6 261.5L1765.0 261.2L1766.5 260.8L1767.9 260.3L1769.3 259.9L1770.8 259.5L1772.2 259.1L1773.7 258.7L1775.1 258.3L1776.5 257.8L1778.0 257.4L1779.4 257.0L1780.9 256.5L1782.3 256.1L1783.7 255.7L1785.2 255.2L1786.6 254.8L1788.0 254.4L1789.5 253.9L1790.9 253.5L1792.4 253.1L1793.8 252.6L1795.2 252.2L1796.7 251.8L1798.1 251.4L1799.6 250.9L1801.0 250.5L1802.4 250.1L1803.9 249.7L1805.3 249.3L1806.8 248.9L1808.2 248.5L1809.7 248.1L1811.1 247.6L1812.5 247.2L1814.0 246.8L1815.4 246.4L1816.9 245.9L1818.3 245.5L1819.7 245.1L1821.1 244.6L1822.6 244.1L1824.0 243.6L1825.4 243.1L1826.8 242.6L1828.2 242.1L1829.5 241.5L1830.9 240.9L1832.3 240.3L1833.6 239.7L1834.9 239.1L1836.3 238.4L1837.6 237.7L1838.9 237.0L1840.2 236.3L1841.5 235.5L1842.7 234.7L1844.0 234.0L1845.3 233.2L1846.5 232.4L1847.8 231.6L1849.0 230.7" stroke="#000000"/>
<path d="M1201.3 382.0L1201.6 380.6L1201.9 379.1L1202.1 377.6L1202.4 376.1L1202.7 374.7L1202.9 373.2L1203.2 371.7L1203.5 370.2L1203.8 368.8L1204.1 367.3L1204.3 365.8L1204.6 364.3L1204.9 362.9L1205.3 361.4L1205.6 359.9L1205.9 358.5L1206.2 357.0L1206.5 355.5L1206.9 354.1L1207.2 352.6L1207.5 351.1L1207.9 349.7L1208.2 348.2L1208.6 346.8L1209.0 345.3L1209.4 343.9L1209.9 342.4L1210.3 341.0L1210.8 339.6L1211.3 338.2L1211.9 336.8L1212.4 335.4L1213.0 334.0L1213.6 332.6L1214.3 331.3L1214.9 329.9L1215.6 328.6L1216.2 327.2L1216.9 325.9L1217.7 324.6L1218.4 323.3L1219.2 322.0L1220.0 320.7L1220.8 319.5L1221.6 318.2L1222.5 317.0L1223.4 315.8L1224.3 314.6L1225.2 313.4L1226.1 312.2L1227.1 311.1L1228.0 309.9L1229.0 308.8L1230.0 307.6L1231.0 306.5L1232.0 305.4L1233.0 304.3L1234.1 303.2L1235.1 302.2L1236.2 301.1L1237.3 300.1L1238.4 299.1L1239.5 298.1L1240.7 297.1L1241.8 296.2L1243.0 295.3L1244.2 294.4L1245.5 293.6L1246.7 292.7L1248.0 291.9L1249.3 291.1L1250.6 290.4L1251.9 289.7L1253.2 289.0L1254.5 288.3L1255.9 287.7L1257.3 287.1L1258.7 286.5L1260.1 286.0L1261.5 285.5L1262.9 285.0L1264.3 284.5L1265.8 284.1L1267.2 283.7L1268.7 283.4L1270.1 283.0L1271.6 282.6L1273.1 282.3L1274.5 281.9L1276.0 281.6L1277.5 281.3L1278.9 281.0L1280.4 280.7L1281.9 280.5L1283.4 280.2L1284.9 280.0L1286.3 279.9L1287.8 279.8L1289.3 279.7L1290.8 279.6L1292.3 279.5L1293.8 279.5L1295.3 279.5L1296.8 279.5L1298.3 279.5L1299.8 279.5L1301.3 279.5L1302.8 279.5L1304.3 279.5L1305.8 279.5L1307.3 279.5L1308.8 279.5L1310.3 279.5L1311.8 279.5L1313.3 279.5L1314.8 279.5L1316.3 279.5L1317.8 279.5L1319.3 279.5L1320.8 279.5L1322.4 279.5L1323.9 279.5L1325.4 279.6L1326.9 279.6L1328.4 279.6L1329.9 279.6L1331.4 279.6L1332.9 279.7L1334.4 279.7L1335.9 279.7L1337.4 279.8L1338.9 279.8L1340.4 279.8L1341.9 279.9L1343.4 279.9L1344.9 279.9L1346.4 280.0L1347.9 280.0L1349.4 280.0L1350.9 280.0L1352.4 280.1L1353.9 280.1L1355.4 280.1L1356.9 280.1L1358.4 280.1L1359.9 280.1L1361.4 280.1L1362.9 280.1L1364.4 280.1L1365.9 280.0L1367.4 280.0L1368.9 280.0L1370.4 280.0L1371.9 280.0L1373.4 280.0L1374.9 280.0L1376.4 280.0L1377.9 280.0L1379.4 280.0L1380.9 279.9L1382.4 279.9L1383.9 279.9L1385.4 279.9L1386.9 279.9L1388.4 279.9L1389.9 279.9L1391.4 279.9L1392.9 279.8L1394.4 279.8L1395.9 279.8L1397.4 279.8L1398.9 279.8L1400.4 279.7L1401.9 279.7L1403.4 279.7L1404.9 279.7L1406.4 279.7L1407.9 279.6L1409.4 279.6L1410.9 279.6L1412.4 279.5L1413.9 279.5L1415.5 279.5L1417.0 279.5L1418.5 279.4L1420.0 279.4L1421.5 279.4L1423.0 279.3L1424.5 279.3L1426.0 279.3L1427.5 279.2L1429.0 279.2L1430.5 279.2L1432.0 279.2L1433.5 279.1L1435.0 279.1L1436.5 279.1L1438.0 279.0L1439.5 279.0L1441.0 279.0L1442.5 279.0L1444.0 278.9L1445.5 278.9L1447.0 278.9L1448.5 278.9L1450.0 278.8L1451.5 278.8L1453.0 278.8L1454.5 278.8L1456.0 278.8L1457.5 278.7L1459.0 278.7L1460.5 278.7L1462.0 278.7L1463.5 278.6L1465.0 278.6L1466.5 278.6L1468.0 278.6L1469.5 278.6L1471.0 278.5L1472.5 278.5L1474.0 278.5L1475.5 278.5L1477.0 278.5L1478.5 278.4L1480.0 278.4L1481.5 278.4L1483.0 278.4L1484.5 278.4L1486.0 278.3L1487.5 278.3L1489.0 278.3L1490.5 278.3L1492.0 278.3L1493.5 278.3L1495.0 278.2L1496.5 278.2L1498.0 278.2L1499.5 278.2L1501.0 278.2L1502.5 278.1L1504.0 278.1L1505.5 278.1L1507.0 278.1L1508.5 278.1L1510.1 278.1L1511.6 278.0L1513.1 278.0L1514.6 278.0L1516.1 278.0L1517.6 278.0L1519.1 278.0L1520.6 277.9L1522.1 277.9L1523.6 277.9L1525.1 277.9L1526.6 277.9L1528.1 277.9L1529.6 277.8L1531.1 277.8L1532.6 277.8L1534.1 277.8L1535.6 277.8L1537.1 277.8L1538.6 277.7L1540.1 277.7L1541.6 277.7L1543.1 277.7L1544.6 277.7L1546.1 277.7L1547.6 277.6L1549.1 277.6L1550.6 277.6L1552.1 277.6L1553.6 277.6L1555.1 277.5L1556.6 277.5L1558.1 277.5L1559.6 277.5L1561.1 277.4L1562.6 277.4L1564.1 277.4L1565.6 277.4L1567.1 277.3L1568.6 277.3L1570.1 277.3L1571.6 277.3L1573.1 277.3L1574.6 277.2L1576.1 277.2L1577.6 277.2L1579.1 277.1L1580.6 277.1L1582.1 277.1L1583.6 277.1L1585.1 277.0L1586.6 277.0L1588.1 277.0L1589.6 276.9L1591.1 276.9L1592.6 276.9L1594.1 276.8L1595.7 276.8L1597.2 276.8L1598.7 276.7L1600.2 276.7L1601.7 276.6L1603.2 276.6L1604.7 276.6L1606.2 276.5L1607.7 276.5L1609.2 276.4L1610.7 276.4L1612.2 276.3L1613.7 276.2L1615.2 276.2L1616.7 276.1L1618.2 276.0L1619.6 275.9L1621.1 275.8L1622.6 275.7L1624.1 275.6L1625.6 275.5L1627.1 275.4L1628.6 275.2L1630.1 275.1L1631.6 275.0L1633.1 274.9L1634.6 274.7L1636.1 274.6L1637.6 274.5L1639.1 274.4L1640.6 274.3L1642.1 274.2L1643.6 274.1L1645.1 274.0L1646.6 273.9L1648.1 273.8L1649.6 273.7L1651.1 273.6L1652.6 273.5L1654.1 273.4L1655.6 273.3L1657.1 273.2L1658.6 273.1L1660.1 273.0L1661.6 272.9L1663.1 272.8L1664.6 272.6L1666.1 272.5L1667.6 272.4L1669.1 272.3L1670.6 272.1L1672.1 272.0L1673.6 271.8L1675.0 271.7L1676.5 271.5L1678.0 271.3L1679.5 271.2L1681.0 271.0L1682.5 270.8L1684.0 270.6L1685.5 270.4L1687.0 270.2L1688.4 269.9L1689.9 269.7L1691.4 269.5L1692.9 269.2L1694.4 269.0L1695.8 268.7L1697.3 268.5L1698.8 268.2L1700.3 267.9L1701.7 267.6L1703.2 267.4L1704.7 267.1L1706.2 266.8L1707.6 266.4L1709.1 266.1L1710.6 265.8L1712.0 265.5L1713.5 265.2L1715.0 264.8L1716.4 264.5L1717.9 264.2L1719.3 263.8L1720.8 263.4L1722.3 263.1L1723.7 262.7L1725.2 262.3L1726.6 262.0L1728.1 261.6L1729.5 261.2L1731.0 260.8L1732.4 260.4L1733.8 260.0L1735.3 259.5L1736.7 259.1L1738.2 258.7L1739.6 258.2L1741.0 257.8L1742.4 257.3L1743.9 256.8L1745.3 256.3L1746.7 255.8L1748.1 255.3L1749.5 254.7L1750.9 254.2L1752.3 253.6L1753.6 253.1L1755.0 252.5L1756.4 251.8L1757.7 251.2L1759.1 250.6L1760.4 249.9L1761.7 249.2L1763.0 248.5L1764.3 247.8L1765.6 247.0L1766.9 246.3L1768.2 245.5L1769.5 244.7L1770.7 243.9L1772.0 243.1L1773.2 242.2L1774.4 241.4L1775.7 240.5L1776.9 239.7L1778.1 238.8L1779.3 237.9L1780.6 237.1L1781.8 236.2L1783.0 235.3L1784.2 234.4L1785.4 233.5L1786.5 232.5L1787.7 231.6L1788.9 230.7L1790.1 229.8L1791.3 228.8L1792.4 227.9L1793.6 226.9L1794.7 226.0L1795.9 225.0L1797.0 224.0L1798.1 223.0L1799.2 222.0L1800.3 221.0L1801.4 220.0L1802.5 219.0L1803.6 217.9L1804.7 216.9L1805.7 215.8L1806.8 214.8L1807.9 213.7L1808.9 212.7L1810.0 211.6L1811.0 210.5L1812.1 209.4L1813.1 208.4L1814.2 207.3L1815.2 206.2L1816.3 205.2L1817.3 204.1L1818.4 203.0L1819.4 201.9L1820.5 200.9L1821.5 199.8L1822.6 198.7L1823.6 197.6L1824.7 196.5L1825.7 195.5L1826.7 194.4L1827.7 193.3L1828.8 192.2L1829.8 191.1L1830.8 189.9L1831.8 188.8L1832.8 187.7L1833.7 186.6L1834.7 185.4L1835.7 184.3L1836.6 183.1L1837.5 181.9L1838.5 180.8L1839.4 179.6L1840.2 178.4L1841.1 177.2L1842.0 175.9L1842.8 174.7L1843.7 173.5L1844.5 172.2L1845.3 171.0L1846.2 169.7L1847.0 168.5L1847.8 167.2L1848.6 165.9" stroke="#0000ff"/>
<path d="M1201.7 544.1L1201.8 542.6L1201.8 541.1L1201.9 539.6L1201.9 538.1L1202.0 536.6L1202.0 535.1L1202.1 533.6L1202.2 532.1L1202.2 530.6L1202.3 529.1L1202.4 527.6L1202.5 526.2L1202.6 524.7L1202.6 523.2L1202.7 521.7L1202.8 520.2L1202.9 518.7L1203.0 517.2L1203.1 515.7L1203.2 514.2L1203.3 512.7L1203.4 511.2L1203.5 509.7L1203.6 508.2L1203.7 506.7L1203.9 505.2L1204.0 503.7L1204.1 502.2L1204.2 500.7L1204.4 499.2L1204.5 497.7L1204.6 496.2L1204.8 494.7L1204.9 493.2L1205.0 491.7L1205.2 490.2L1205.3 488.7L1205.4 487.2L1205.6 485.7L1205.7 484.3L1205.8 482.8L1206.0 481.3L1206.1 479.8L1206.2 478.3L1206.4 476.8L1206.5 475.3L1206.6 473.8L1206.8 472.3L1206.9 470.8L1207.1 469.3L1207.2 467.8L1207.4 466.3L1207.5 464.8L1207.7 463.3L1207.9 461.8L1208.0 460.3L1208.2 458.9L1208.4 457.4L1208.5 455.9L1208.7 454.4L1208.9 452.9L1209.0 451.4L1209.2 449.9L1209.4 448.4L1209.6 446.9L1209.8 445.4L1209.9 443.9L1210.1 442.5L1210.3 441.0L1210.5 439.5L1210.7 438.0L1210.9 436.5L1211.1 435.0L1211.3 433.5L1211.5 432.0L1211.8 430.6L1212.0 429.1L1212.3 427.6L1212.5 426.1L1212.8 424.6L1213.0 423.2L1213.3 421.7L1213.6 420.2L1213.9 418.7L1214.1 417.3L1214.4 415.8L1214.7 414.3L1215.0 412.8L1215.3 411.4L1215.6 409.9L1215.9 408.4L1216.2 407.0L1216.5 405.5L1216.8 404.0L1217.1 402.5L1217.4 401.1L1217.7 399.6L1218.0 398.1L1218.3 396.7L1218.7 395.2L1219.0 393.8L1219.4 392.3L1219.7 390.8L1220.1 389.4L1220.5 387.9L1220.9 386.5L1221.3 385.0L1221.7 383.6L1222.1 382.1L1222.5 380.7L1222.9 379.3L1223.4 377.8L1223.8 376.4L1224.3 375.0L1224.7 373.5L1225.2 372.1L1225.7 370.7L1226.2 369.3L1226.7 367.9L1227.2 366.5L1227.7 365.0L1228.3 363.6L1228.8 362.3L1229.4 360.9L1230.0 359.5L1230.6 358.1L1231.2 356.7L1231.8 355.4L1232.5 354.0L1233.1 352.7L1233.8 351.4L1234.5 350.0L1235.3 348.7L1236.0 347.4L1236.8 346.1L1237.6 344.9L1238.4 343.6L1239.2 342.3L1240.0 341.1L1240.8 339.8L1241.7 338.6L1242.5 337.3L1243.4 336.1L1244.3 334.9L1245.1 333.7L1246.0 332.5L1247.0 331.3L1247.9 330.1L1248.9 329.0L1249.9 327.9L1250.9 326.7L1251.9 325.6L1252.9 324.6L1254.0 323.5L1255.0 322.4L1256.1 321.4L1257.2 320.3L1258.3 319.3L1259.4 318.3L1260.6 317.4L1261.7 316.4L1262.9 315.5L1264.1 314.6L1265.3 313.7L1266.5 312.8L1267.7 311.9L1268.9 311.1L1270.2 310.2L1271.4 309.3L1272.7 308.5L1273.9 307.6L1275.1 306.8L1276.4 306.0L1277.7 305.1L1278.9 304.3L1280.2 303.5L1281.5 302.7L1282.8 302.0L1284.1 301.2L1285.4 300.5L1286.7 299.8L1288.0 299.2L1289.4 298.5L1290.8 297.9L1292.1 297.4L1293.5 296.8L1294.9 296.3L1296.3 295.8L1297.8 295.2L1299.2 294.7L1300.6 294.2L1302.0 293.8L1303.4 293.3L1304.9 292.8L1306.3 292.4L1307.7 291.9L1309.2 291.5L1310.6 291.1L1312.0 290.7L1313.5 290.3L1314.9 289.9L1316.4 289.6L1317.9 289.2L1319.3 288.9L1320.8 288.5L1322.3 288.2L1323.7 287.9L1325.2 287.6L1326.7 287.3L1328.1 287.0L1329.6 286.7L1331.1 286.4L1332.5 286.1L1334.0 285.8L1335.5 285.5L1337.0 285.2L1338.4 284.9L1339.9 284.6L1341.4 284.2L1342.8 283.9L1344.3 283.6L1345.7 283.2L1347.2 282.9L1348.7 282.6L1350.1 282.2L1351.6 281.9L1353.1 281.5L1354.5 281.2L1356.0 280.9L1357.4 280.5L1358.9 280.2L1360.4 279.9L1361.8 279.5L1363.3 279.2L1364.8 278.9L1366.2 278.5L1367.7 278.2L1369.2 277.9L1370.6 277.6L1372.1 277.4L1373.6 277.1L1375.1 276.9L1376.6 276.7L1378.0 276.5L1379.5 276.3L1381.0 276.1L1382.5 275.9L1384.0 275.8L1385.5 275.6L1387.0 275.5L1388.5 275.3L1390.0 275.2L1391.5 275.1L1393.0 274.9L1394.5 274.8L1396.0 274.7L1397.5 274.5L1399.0 274.4L1400.5 274.3L1402.0 274.2L1403.4 274.1L1404.9 274.0L1406.4 273.8L1407.9 273.7L1409.4 273.6L1410.9 273.5L1412.4 273.4L1413.9 273.3L1415.4 273.2L1416.9 273.1L1418.4 273.0L1419.9 272.9L1421.4 272.8L1422.9 272.7L1424.4 272.6L1425.9 272.5L1427.4 272.5L1428.9 272.4L1430.4 272.3L1431.9 272.2L1433.4 272.1L1434.9 272.0L1436.4 272.0L1437.9 271.9L1439.4 271.8L1440.9 271.8L1442.4 271.7L1443.9 271.6L1445.4 271.5L1446.9 271.5L1448.4 271.4L1449.9 271.3L1451.4 271.2L1452.9 271.2L1454.4 271.1L1455.9 271.0L1457.4 270.9L1458.9 270.9L1460.4 270.8L1461.9 270.7L1463.4 270.6L1464.9 270.5L1466.4 270.4L1467.9 270.3L1469.4 270.2L1470.9 270.1L1472.4 270.0L1473.9 269.9L1475.4 269.8L1476.9 269.7L1478.4 269.6L1479.9 269.5L1481.4 269.4L1482.9 269.3L1484.4 269.2L1485.9 269.1L1487.4 269.0L1488.9 268.9L1490.3 268.8L1491.8 268.7L1493.3 268.6L1494.8 268.5L1496.3 268.4L1497.8 268.3L1499.3 268.3L1500.8 268.2L1502.3 268.1L1503.8 268.0L1505.3 268.0L1506.8 267.9L1508.3 267.8L1509.8 267.8L1511.3 267.7L1512.8 267.6L1514.3 267.6L1515.8 267.5L1517.3 267.5L1518.8 267.4L1520.3 267.3L1521.8 267.3L1523.4 267.2L1524.9 267.2L1526.4 267.1L1527.9 267.1L1529.4 267.0L1530.9 267.0L1532.4 266.9L1533.9 266.9L1535.4 266.8L1536.9 266.7L1538.4 266.7L1539.9 266.6L1541.4 266.6L1542.9 266.5L1544.4 266.4L1545.9 266.4L1547.4 266.3L1548.9 266.2L1550.4 266.1L1551.8 266.1L1553.3 266.0L1554.8 265.9L1556.3 265.8L1557.8 265.7L1559.3 265.6L1560.8 265.5L1562.3 265.3L1563.8 265.2L1565.3 265.1L1566.8 264.9L1568.3 264.7L1569.8 264.5L1571.2 264.3L1572.7 264.1L1574.2 263.9L1575.7 263.7L1577.2 263.5L1578.7 263.2L1580.2 263.0L1581.6 262.8L1583.1 262.5L1584.6 262.3L1586.1 262.0L1587.6 261.7L1589.1 261.5L1590.5 261.2L1592.0 261.0L1593.5 260.7L1595.0 260.5L1596.5 260.2L1598.0 260.0L1599.4 259.8L1600.9 259.5L1602.4 259.3L1603.9 259.1L1605.4 258.9L1606.9 258.7L1608.4 258.5L1609.9 258.4L1611.3 258.2L1612.8 258.1L1614.3 258.0L1615.8 257.9L1617.3 257.7L1618.8 257.6L1620.3 257.6L1621.8 257.5L1623.3 257.4L1624.8 257.3L1626.3 257.2L1627.8 257.2L1629.3 257.1L1630.8 257.0L1632.3 256.9L1633.8 256.9L1635.3 256.8L1636.8 256.7L1638.3 256.7L1639.8 256.6L1641.3 256.5L1642.8 256.5L1644.3 256.4L1645.8 256.3L1647.3 256.3L1648.8 256.2L1650.3 256.2L1651.8 256.1L1653.3 256.0L1654.8 256.0L1656.3 255.9L1657.8 255.8L1659.3 255.7L1660.8 255.7L1662.3 255.6L1663.8 255.5L1665.3 255.4L1666.8 255.4L1668.3 255.3L1669.8 255.2L1671.3 255.1L1672.8 255.0L1674.3 254.9L1675.8 254.8L1677.3 254.7L1678.8 254.6L1680.3 254.5L1681.8 254.3L1683.3 254.2L1684.8 254.1L1686.3 253.9L1687.7 253.8L1689.2 253.6L1690.7 253.5L1692.2 253.3L1693.7 253.1L1695.2 252.9L1696.7 252.8L1698.2 252.6L1699.7 252.3L1701.1 252.1L1702.6 251.9L1704.1 251.6L1705.6 251.4L1707.0 251.1L1708.5 250.8L1710.0 250.6L1711.5 250.3L1712.9 249.9L1714.4 249.6L1715.8 249.3L1717.3 248.9L1718.7 248.6L1720.2 248.2L1721.6 247.8L1723.1 247.4L1724.5 247.0L1726.0 246.6L1727.4 246.1L1728.8 245.7L1730.3 245.2L1731.7 244.8L1733.1 244.3L1734.5 243.8L1735.9 243.3L1737.4 242.8L1738.8 242.3L1740.2 241.8L1741.6 241.3L1743.0 240.7L1744.4 240.2L1745.7 239.6L1747.1 239.0L1748.5 238.4L1749.8 237.8L1751.2 237.2L1752.5 236.5L1753.8 235.8L1755.2 235.1L1756.4 234.4L1757.7 233.7L1759.0 232.9L1760.2 232.1L1761.5 231.3L1762.7 230.4L1763.9 229.5L1765.0 228.6L1766.2 227.7L1767.3 226.8L1768.4 225.8L1769.5 224.8L1770.6 223.8L1771.6 222.7L1772.7 221.7L1773.7 220.6L1774.7 219.5L1775.7 218.4L1776.7 217.2L1777.6 216.1L1778.5 214.9L1779.5 213.7L1780.4 212.6L1781.3 211.4L1782.2 210.2L1783.0 208.9L1783.9 207.7L1784.8 206.5L1785.6 205.3L1786.5 204.0L1787.3 202.8L1788.1 201.5L1788.9 200.3L1789.7 199.0L1790.5 197.7L1791.3 196.5L1792.1 195.2L1792.9 193.9L1793.7 192.6L1794.5 191.3L1795.3 190.1L1796.1 188.8L1796.8 187.5L1797.6 186.2L1798.4 184.9L1799.1 183.6L1799.9 182.3L1800.6 181.0L1801.4 179.7L1802.2 178.4L1802.9 177.1L1803.7 175.8L1804.4 174.6L1805.2 173.3L1805.9 172.0L1806.7 170.7L1807.4 169.4L1808.2 168.1L1809.0 166.8L1809.7 165.5L1810.5 164.2L1811.3 162.9L1812.0 161.6L1812.8 160.3L1813.6 159.0L1814.3 157.7L1815.1 156.5L1815.9 155.2L1816.6 153.9L1817.4 152.6L1818.2 151.3L1819.0 150.0L1819.7 148.7L1820.5 147.4L1821.3 146.2L1822.0 144.9L1822.8 143.6L1823.5 142.3L1824.3 141.0L1825.0 139.7L1825.7 138.4L1826.5 137.0L1827.2 135.7L1827.9 134.4L1828.6 133.1L1829.3 131.7L1830.0 130.4L1830.6 129.1L1831.3 127.7L1831.9 126.4L1832.6 125.0L1833.2 123.7L1833.8 122.3L1834.4 120.9L1835.0 119.6L1835.6 118.2L1836.2 116.8L1836.8 115.4L1837.4 114.0L1838.0 112.7L1838.5 111.3L1839.1 109.9L1839.6 108.5L1840.2 107.1L1840.7 105.7L1841.2 104.3L1841.8 102.9L1842.3 101.5L1842.8 100.0L1843.3 98.6L1843.8 97.2L1844.3 95.8L1844.8 94.4L1845.3 93.0L1845.8 91.5L1846.2 90.1L1846.7 88.7L1847.2 87.3L1847.7 85.8L1848.1 84.4L1848.6 83.0" stroke="#ff0000"/>
<path d="M1201.7 480.6L1201.8 479.1L1201.9 477.6L1202.0 476.1L1202.1 474.6L1202.2 473.1L1202.3 471.6L1202.4 470.1L1202.5 468.6L1202.6 467.1L1202.7 465.6L1202.8 464.1L1203.0 462.6L1203.1 461.1L1203.2 459.7L1203.3 458.2L1203.5 456.7L1203.6 455.2L1203.7 453.7L1203.9 452.2L1204.0 450.7L1204.2 449.2L1204.3 447.7L1204.5 446.2L1204.7 444.7L1204.8 443.2L1205.0 441.7L1205.1 440.2L1205.3 438.7L1205.4 437.3L1205.6 435.8L1205.8 434.3L1205.9 432.8L1206.1 431.3L1206.3 429.8L1206.4 428.3L1206.6 426.8L1206.8 425.3L1207.0 423.8L1207.3 422.4L1207.5 420.9L1207.8 419.4L1208.0 417.9L1208.3 416.5L1208.6 415.0L1208.9 413.5L1209.2 412.0L1209.4 410.6L1209.7 409.1L1210.0 407.6L1210.3 406.1L1210.6 404.7L1210.8 403.2L1211.1 401.7L1211.4 400.2L1211.7 398.8L1211.9 397.3L1212.2 395.8L1212.5 394.4L1212.8 392.9L1213.2 391.4L1213.5 390.0L1213.8 388.5L1214.1 387.0L1214.5 385.6L1214.9 384.1L1215.2 382.7L1215.6 381.2L1216.0 379.8L1216.4 378.3L1216.8 376.9L1217.2 375.4L1217.6 374.0L1218.0 372.5L1218.4 371.1L1218.9 369.7L1219.3 368.2L1219.8 366.8L1220.2 365.4L1220.7 363.9L1221.2 362.5L1221.7 361.1L1222.2 359.7L1222.7 358.3L1223.2 356.9L1223.7 355.5L1224.3 354.1L1224.8 352.7L1225.3 351.3L1225.9 349.9L1226.5 348.5L1227.0 347.1L1227.6 345.7L1228.1 344.3L1228.7 342.9L1229.3 341.5L1229.9 340.2L1230.6 338.8L1231.2 337.5L1232.0 336.2L1232.7 334.9L1233.5 333.6L1234.3 332.3L1235.1 331.1L1236.0 329.9L1236.8 328.6L1237.7 327.4L1238.7 326.3L1239.6 325.1L1240.6 323.9L1241.5 322.8L1242.6 321.7L1243.6 320.6L1244.7 319.6L1245.7 318.5L1246.8 317.5L1248.0 316.5L1249.1 315.6L1250.3 314.6L1251.4 313.7L1252.6 312.8L1253.8 311.9L1255.1 311.0L1256.3 310.2L1257.5 309.3L1258.8 308.5L1260.1 307.7L1261.3 306.9L1262.6 306.2L1263.9 305.4L1265.3 304.7L1266.6 304.0L1267.9 303.3L1269.2 302.6L1270.6 301.9L1271.9 301.2L1273.2 300.6L1274.6 299.9L1275.9 299.2L1277.3 298.5L1278.6 297.8L1279.9 297.1L1281.3 296.5L1282.6 295.8L1284.0 295.2L1285.4 294.6L1286.7 294.0L1288.1 293.5L1289.5 292.9L1290.9 292.4L1292.3 291.9L1293.8 291.4L1295.2 290.9L1296.6 290.5L1298.0 290.1L1299.5 289.6L1300.9 289.2L1302.4 288.8L1303.8 288.4L1305.3 288.0L1306.7 287.7L1308.2 287.3L1309.6 286.9L1311.1 286.6L1312.5 286.2L1314.0 285.9L1315.5 285.5L1316.9 285.2L1318.4 284.9L1319.9 284.6L1321.3 284.3L1322.8 284.0L1324.3 283.7L1325.8 283.5L1327.2 283.2L1328.7 283.0L1330.2 282.8L1331.7 282.6L1333.2 282.4L1334.7 282.2L1336.2 282.0L1337.7 281.9L1339.1 281.7L1340.6 281.5L1342.1 281.3L1343.6 281.1L1345.1 280.9L1346.6 280.7L1348.1 280.5L1349.6 280.3L1351.0 280.1L1352.5 279.9L1354.0 279.7L1355.5 279.5L1357.0 279.3L1358.5 279.2L1360.0 279.0L1361.5 278.8L1363.0 278.7L1364.5 278.5L1365.9 278.4L1367.4 278.2L1368.9 278.1L1370.4 278.0L1371.9 277.9L1373.4 277.7L1374.9 277.6L1376.4 277.5L1377.9 277.4L1379.4 277.3L1380.9 277.2L1382.4 277.1L1383.9 277.0L1385.4 276.9L1386.9 276.8L1388.4 276.7L1389.9 276.6L1391.4 276.5L1392.9 276.5L1394.4 276.4L1395.9 276.3L1397.4 276.2L1398.9 276.1L1400.4 276.0L1401.9 275.9L1403.4 275.8L1404.9 275.7L1406.4 275.6L1407.9 275.5L1409.4 275.5L1410.9 275.4L1412.4 275.3L1413.9 275.2L1415.4 275.1L1416.9 275.0L1418.3 274.9L1419.8 274.8L1421.3 274.8L1422.8 274.7L1424.3 274.6L1425.8 274.5L1427.3 274.5L1428.8 274.4L1430.3 274.4L1431.8 274.3L1433.3 274.2L1434.8 274.2L1436.3 274.1L1437.8 274.1L1439.3 274.0L1440.8 274.0L1442.3 273.9L1443.8 273.9L1445.3 273.9L1446.8 273.8L1448.3 273.8L1449.8 273.7L1451.3 273.7L1452.8 273.6L1454.3 273.6L1455.8 273.5L1457.3 273.5L1458.8 273.4L1460.3 273.3L1461.8 273.3L1463.3 273.2L1464.8 273.2L1466.3 273.1L1467.8 273.0L1469.3 273.0L1470.8 272.9L1472.3 272.9L1473.8 272.8L1475.3 272.7L1476.8 272.7L1478.3 272.6L1479.8 272.5L1481.3 272.5L1482.8 272.4L1484.3 272.3L1485.8 272.2L1487.3 272.2L1488.8 272.1L1490.3 272.0L1491.8 272.0L1493.3 271.9L1494.8 271.8L1496.3 271.8L1497.8 271.7L1499.3 271.6L1500.8 271.6L1502.3 271.5L1503.8 271.4L1505.3 271.4L1506.8 271.3L1508.3 271.3L1509.8 271.2L1511.3 271.1L1512.8 271.1L1514.3 271.0L1515.8 271.0L1517.3 270.9L1518.8 270.8L1520.3 270.8L1521.8 270.7L1523.3 270.7L1524.8 270.6L1526.3 270.5L1527.8 270.5L1529.3 270.4L1530.8 270.4L1532.3 270.3L1533.8 270.2L1535.3 270.2L1536.8 270.1L1538.3 270.0L1539.8 270.0L1541.3 269.9L1542.8 269.8L1544.3 269.8L1545.8 269.7L1547.3 269.6L1548.8 269.5L1550.3 269.5L1551.8 269.4L1553.3 269.3L1554.8 269.2L1556.3 269.1L1557.8 269.0L1559.3 268.9L1560.8 268.8L1562.3 268.7L1563.8 268.6L1565.2 268.5L1566.7 268.4L1568.2 268.2L1569.7 268.1L1571.2 267.9L1572.7 267.8L1574.2 267.6L1575.7 267.5L1577.2 267.3L1578.7 267.1L1580.2 266.9L1581.7 266.8L1583.2 266.6L1584.7 266.4L1586.1 266.2L1587.6 266.0L1589.1 265.8L1590.6 265.7L1592.1 265.5L1593.6 265.3L1595.1 265.1L1596.6 265.0L1598.1 264.8L1599.6 264.6L1601.1 264.5L1602.6 264.3L1604.1 264.2L1605.5 264.1L1607.0 264.0L1608.5 263.8L1610.0 263.7L1611.5 263.6L1613.0 263.5L1614.5 263.5L1616.0 263.4L1617.5 263.3L1619.0 263.3L1620.5 263.2L1622.0 263.2L1623.5 263.1L1625.0 263.1L1626.5 263.0L1628.0 263.0L1629.5 262.9L1631.0 262.9L1632.5 262.9L1634.0 262.8L1635.5 262.8L1637.0 262.7L1638.5 262.7L1640.0 262.6L1641.5 262.6L1643.0 262.5L1644.5 262.5L1646.0 262.4L1647.5 262.4L1649.0 262.3L1650.5 262.3L1652.0 262.2L1653.5 262.2L1655.0 262.1L1656.5 262.1L1658.0 262.0L1659.5 262.0L1661.0 261.9L1662.5 261.8L1664.0 261.8L1665.5 261.7L1667.0 261.7L1668.5 261.6L1670.0 261.5L1671.5 261.5L1673.0 261.4L1674.5 261.3L1676.0 261.3L1677.5 261.2L1679.0 261.1L1680.5 261.1L1682.0 261.0L1683.5 260.9L1685.0 260.8L1686.5 260.7L1688.0 260.6L1689.5 260.5L1691.0 260.3L1692.5 260.2L1693.9 260.1L1695.4 259.9L1696.9 259.8L1698.4 259.6L1699.9 259.4L1701.4 259.3L1702.9 259.1L1704.4 258.9L1705.9 258.7L1707.3 258.5L1708.8 258.2L1710.3 258.0L1711.8 257.7L1713.3 257.5L1714.7 257.2L1716.2 257.0L1717.7 256.7L1719.1 256.4L1720.6 256.1L1722.1 255.8L1723.5 255.4L1725.0 255.1L1726.5 254.7L1727.9 254.4L1729.4 254.0L1730.8 253.6L1732.2 253.2L1733.7 252.8L1735.1 252.4L1736.6 252.0L1738.0 251.5L1739.4 251.1L1740.8 250.6L1742.2 250.1L1743.6 249.6L1745.0 249.1L1746.4 248.5L1747.8 248.0L1749.2 247.4L1750.6 246.8L1751.9 246.2L1753.3 245.6L1754.7 245.0L1756.0 244.3L1757.3 243.6L1758.7 242.9L1760.0 242.2L1761.3 241.5L1762.6 240.8L1763.9 240.0L1765.1 239.2L1766.4 238.4L1767.6 237.6L1768.9 236.8L1770.1 235.9L1771.3 235.1L1772.5 234.2L1773.7 233.3L1774.9 232.4L1776.1 231.5L1777.2 230.5L1778.4 229.5L1779.5 228.6L1780.6 227.6L1781.7 226.6L1782.8 225.6L1783.9 224.5L1785.0 223.5L1786.1 222.5L1787.1 221.4L1788.2 220.3L1789.2 219.3L1790.3 218.2L1791.3 217.1L1792.3 216.0L1793.3 214.9L1794.3 213.8L1795.3 212.6L1796.3 211.5L1797.3 210.4L1798.2 209.2L1799.2 208.1L1800.2 206.9L1801.1 205.8L1802.1 204.6L1803.1 203.5L1804.0 202.3L1805.0 201.2L1805.9 200.0L1806.9 198.9L1807.8 197.7L1808.8 196.5L1809.7 195.4L1810.7 194.2L1811.6 193.1L1812.5 191.9L1813.5 190.7L1814.4 189.5L1815.3 188.4L1816.3 187.2L1817.2 186.0L1818.1 184.8L1819.0 183.6L1819.9 182.4L1820.8 181.2L1821.7 180.0L1822.6 178.8L1823.4 177.6L1824.3 176.3L1825.1 175.1L1826.0 173.9L1826.8 172.6L1827.6 171.4L1828.5 170.1L1829.3 168.9L1830.1 167.6L1830.9 166.3L1831.6 165.0L1832.4 163.7L1833.2 162.5L1833.9 161.2L1834.7 159.9L1835.4 158.5L1836.1 157.2L1836.8 155.9L1837.5 154.6L1838.2 153.2L1838.8 151.9L1839.5 150.6L1840.2 149.2L1840.8 147.9L1841.4 146.5L1842.1 145.2L1842.7 143.8L1843.3 142.4L1843.9 141.0L1844.5 139.7L1845.1 138.3L1845.7 136.9L1846.3 135.5L1846.9 134.2L1847.4 132.8L1848.0 131.4L1848.6 130.0" stroke="#006400"/>
</g>
<g stroke="#000" stroke-width="5.3" fill="none">
<path d="M1186.7 32.9V589.7"/>
<path d="M1170.2 37.1H1865.0"/>
<path d="M1865.0 32.9V589.7"/>
<path d="M1183.1 587.1H1867.6"/>
<path d="M1178.7 566.4H1186.7"/>
<path d="M1170.2 525.7H1186.7"/>
<path d="M1178.7 485.0H1186.7"/>
<path d="M1170.2 444.3H1186.7"/>
<path d="M1178.7 403.5H1186.7"/>
<path d="M1170.2 362.8H1186.7"/>
<path d="M1178.7 322.1H1186.7"/>
<path d="M1170.2 281.4H1186.7"/>
<path d="M1178.7 240.7H1186.7"/>
<path d="M1170.2 200.0H1186.7"/>
<path d="M1178.7 159.2H1186.7"/>
<path d="M1170.2 118.5H1186.7"/>
<path d="M1178.7 77.8H1186.7"/>
<path d="M1170.2 37.1H1186.7"/>
<path d="M1202.0 587.1V602.1"/>
<path d="M1234.3 587.1V593.6"/>
<path d="M1266.7 587.1V602.1"/>
<path d="M1299.0 587.1V593.6"/>
<path d="M1331.3 587.1V602.1"/>
<path d="M1363.6 587.1V593.6"/>
<path d="M1396.0 587.1V602.1"/>
<path d="M1428.3 587.1V593.6"/>
<path d="M1460.6 587.1V602.1"/>
<path d="M1492.9 587.1V593.6"/>
<path d="M1525.3 587.1V602.1"/>
<path d="M1557.6 587.1V593.6"/>
<path d="M1589.9 587.1V602.1"/>
<path d="M1622.3 587.1V593.6"/>
<path d="M1654.6 587.1V602.1"/>
<path d="M1686.9 587.1V593.6"/>
<path d="M1719.2 587.1V602.1"/>
<path d="M1751.6 587.1V593.6"/>
<path d="M1783.9 587.1V602.1"/>
<path d="M1816.2 587.1V593.6"/>
<path d="M1848.5 587.1V602.1"/>
</g>
<g font-size="35.5px" text-anchor="end">
<text x="1159.0" y="535.3">-120</text>
<text x="1159.0" y="453.9">-80</text>
<text x="1159.0" y="372.4">-40</text>
<text x="1159.0" y="291.0">0</text>
<text x="1159.0" y="209.6">40</text>
<text x="1159.0" y="128.1">80</text>
<text x="1159.0" y="46.7">120</text>
</g>
<g font-size="35.5px" text-anchor="middle">
<text x="1202.3" y="640.7">-0.6</text>
<text x="1267.0" y="640.7">-0.4</text>
<text x="1331.6" y="640.7">-0.2</text>
<text x="1396.3" y="640.7">0.0</text>
<text x="1460.9" y="640.7">0.2</text>
<text x="1525.6" y="640.7">0.4</text>
<text x="1590.2" y="640.7">0.6</text>
<text x="1654.9" y="640.7">0.8</text>
<text x="1719.5" y="640.7">1.0</text>
<text x="1784.2" y="640.7">1.2</text>
<text x="1848.8" y="640.7">1.4</text>
</g>
<text x="1488.5" y="678" font-size="42.5px" text-anchor="middle" letter-spacing="0.1">Potential (V vs. SCE)</text>
<text transform="translate(1071.3,311.5) rotate(-90)" font-size="43px" text-anchor="middle" letter-spacing="0.25" word-spacing="-3">Current density (μA/cm<tspan font-size="28px" dy="-17.5">2</tspan><tspan dy="17.5">)</tspan></text>
<text x="944" y="65.3" font-size="55px">(b)</text>
<g font-size="36px" letter-spacing="0.6">
<path d="M1205.5 69.5H1288" stroke="#000000" stroke-width="5" stroke-linecap="round" fill="none"/>
<text x="1296.5" y="81.5">In(0)</text>
<path d="M1205.5 116.0H1288" stroke="#0000ff" stroke-width="5" stroke-linecap="round" fill="none"/>
<text x="1296.5" y="128.0">In(1)</text>
<path d="M1205.5 162.5H1288" stroke="#ff0000" stroke-width="5" stroke-linecap="round" fill="none"/>
<text x="1296.5" y="174.5">In(2)</text>
<path d="M1205.5 209.0H1288" stroke="#006400" stroke-width="5" stroke-linecap="round" fill="none"/>
<text x="1296.5" y="221.0">In(3)</text>
</g>
</svg>
</body></html>
